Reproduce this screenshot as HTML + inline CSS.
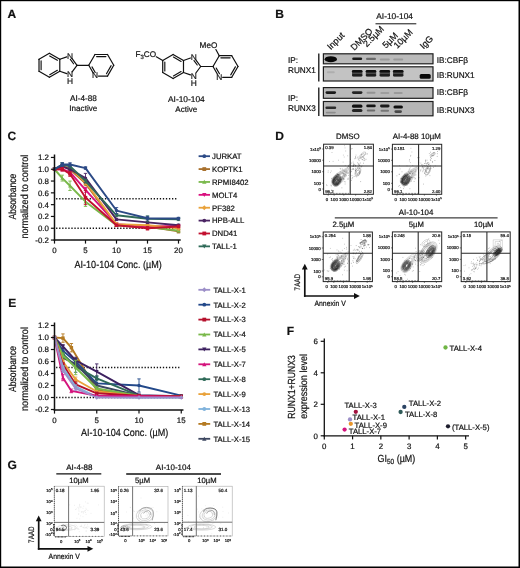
<!DOCTYPE html>
<html><head><meta charset="utf-8"><title>Figure</title>
<style>
html,body{margin:0;padding:0;background:#fff;}
svg{display:block;}
text{font-family:"Liberation Sans",Arial,Helvetica,sans-serif;fill:#111;text-rendering:geometricPrecision;stroke:#111;stroke-width:0.2px;}
</style></head><body>
<svg width="520" height="568" viewBox="0 0 520 568">
<rect x="0" y="0" width="520" height="568" fill="#fff"/>
<rect x="0" y="0" width="520" height="1.2" fill="#000"/>
<rect x="0" y="0" width="1.2" height="568" fill="#000"/>
<rect x="518.5" y="0" width="1.5" height="568" fill="#000"/>
<rect x="0" y="566.5" width="520" height="1.5" fill="#000"/>
<text x="7.60" y="17.60" font-size="12" font-weight="bold" fill="#000">A</text>
<text x="275.20" y="17.60" font-size="12" font-weight="bold" fill="#000">B</text>
<text x="7.40" y="140.20" font-size="12" font-weight="bold" fill="#000">C</text>
<text x="275.30" y="140.20" font-size="12" font-weight="bold" fill="#000">D</text>
<text x="8.20" y="306.90" font-size="12" font-weight="bold" fill="#000">E</text>
<text x="286.80" y="334.60" font-size="12" font-weight="bold" fill="#000">F</text>
<text x="7.40" y="468.80" font-size="12" font-weight="bold" fill="#000">G</text>
<line x1="49.40" y1="53.30" x2="59.79" y2="59.30" stroke="#111" stroke-width="1.2" stroke-linecap="round"/>
<line x1="59.79" y1="59.30" x2="59.79" y2="71.30" stroke="#111" stroke-width="1.2" stroke-linecap="round"/>
<line x1="59.79" y1="71.30" x2="49.40" y2="77.30" stroke="#111" stroke-width="1.2" stroke-linecap="round"/>
<line x1="49.40" y1="77.30" x2="39.01" y2="71.30" stroke="#111" stroke-width="1.2" stroke-linecap="round"/>
<line x1="39.01" y1="71.30" x2="39.01" y2="59.30" stroke="#111" stroke-width="1.2" stroke-linecap="round"/>
<line x1="39.01" y1="59.30" x2="49.40" y2="53.30" stroke="#111" stroke-width="1.2" stroke-linecap="round"/>
<line x1="49.74" y1="55.92" x2="57.36" y2="60.32" stroke="#111" stroke-width="1.15" stroke-linecap="round"/>
<line x1="57.36" y1="70.28" x2="49.74" y2="74.68" stroke="#111" stroke-width="1.15" stroke-linecap="round"/>
<line x1="41.11" y1="69.70" x2="41.11" y2="60.90" stroke="#111" stroke-width="1.15" stroke-linecap="round"/>
<line x1="59.79" y1="59.30" x2="66.79" y2="56.83" stroke="#111" stroke-width="1.2" stroke-linecap="round"/>
<line x1="72.12" y1="58.61" x2="77.00" y2="65.30" stroke="#111" stroke-width="1.2" stroke-linecap="round"/>
<line x1="77.00" y1="65.30" x2="72.15" y2="71.81" stroke="#111" stroke-width="1.2" stroke-linecap="round"/>
<line x1="66.77" y1="73.63" x2="59.79" y2="71.30" stroke="#111" stroke-width="1.2" stroke-linecap="round"/>
<line x1="70.31" y1="59.35" x2="73.54" y2="63.78" stroke="#111" stroke-width="1.15" stroke-linecap="round"/>
<line x1="77.00" y1="65.30" x2="88.75" y2="65.30" stroke="#111" stroke-width="1.2" stroke-linecap="round"/>
<line x1="88.75" y1="65.30" x2="95.00" y2="54.50" stroke="#111" stroke-width="1.2" stroke-linecap="round"/>
<line x1="95.00" y1="54.50" x2="107.50" y2="54.50" stroke="#111" stroke-width="1.2" stroke-linecap="round"/>
<line x1="107.50" y1="54.50" x2="113.75" y2="65.30" stroke="#111" stroke-width="1.2" stroke-linecap="round"/>
<line x1="113.75" y1="65.30" x2="107.50" y2="76.10" stroke="#111" stroke-width="1.2" stroke-linecap="round"/>
<line x1="107.50" y1="76.10" x2="98.40" y2="76.10" stroke="#111" stroke-width="1.2" stroke-linecap="round"/>
<line x1="93.20" y1="72.98" x2="88.75" y2="65.30" stroke="#111" stroke-width="1.2" stroke-linecap="round"/>
<line x1="96.60" y1="56.60" x2="105.90" y2="56.60" stroke="#111" stroke-width="1.15" stroke-linecap="round"/>
<line x1="111.13" y1="65.64" x2="106.48" y2="73.67" stroke="#111" stroke-width="1.15" stroke-linecap="round"/>
<line x1="95.23" y1="72.51" x2="91.99" y2="66.90" stroke="#111" stroke-width="1.15" stroke-linecap="round"/>
<text x="70.00" y="58.70" font-size="8.4" text-anchor="middle">N</text>
<text x="70.00" y="77.30" font-size="8.4" text-anchor="middle">N</text>
<text x="70.00" y="84.30" font-size="8.4" text-anchor="middle">H</text>
<text x="95.00" y="78.30" font-size="8.4" text-anchor="middle">N</text>
<text x="83.40" y="101.20" font-size="8.2" text-anchor="middle">AI-4-88</text>
<text x="83.30" y="110.90" font-size="8.1" text-anchor="middle">Inactive</text>
<line x1="173.10" y1="54.50" x2="183.49" y2="60.50" stroke="#111" stroke-width="1.2" stroke-linecap="round"/>
<line x1="183.49" y1="60.50" x2="183.49" y2="72.50" stroke="#111" stroke-width="1.2" stroke-linecap="round"/>
<line x1="183.49" y1="72.50" x2="173.10" y2="78.50" stroke="#111" stroke-width="1.2" stroke-linecap="round"/>
<line x1="173.10" y1="78.50" x2="162.71" y2="72.50" stroke="#111" stroke-width="1.2" stroke-linecap="round"/>
<line x1="162.71" y1="72.50" x2="162.71" y2="60.50" stroke="#111" stroke-width="1.2" stroke-linecap="round"/>
<line x1="162.71" y1="60.50" x2="173.10" y2="54.50" stroke="#111" stroke-width="1.2" stroke-linecap="round"/>
<line x1="173.44" y1="57.12" x2="181.06" y2="61.52" stroke="#111" stroke-width="1.15" stroke-linecap="round"/>
<line x1="181.06" y1="71.48" x2="173.44" y2="75.88" stroke="#111" stroke-width="1.15" stroke-linecap="round"/>
<line x1="164.81" y1="70.90" x2="164.81" y2="62.10" stroke="#111" stroke-width="1.15" stroke-linecap="round"/>
<line x1="183.49" y1="60.50" x2="190.49" y2="58.03" stroke="#111" stroke-width="1.2" stroke-linecap="round"/>
<line x1="195.82" y1="59.81" x2="200.70" y2="66.50" stroke="#111" stroke-width="1.2" stroke-linecap="round"/>
<line x1="200.70" y1="66.50" x2="195.85" y2="73.01" stroke="#111" stroke-width="1.2" stroke-linecap="round"/>
<line x1="190.47" y1="74.83" x2="183.49" y2="72.50" stroke="#111" stroke-width="1.2" stroke-linecap="round"/>
<line x1="194.01" y1="60.55" x2="197.24" y2="64.98" stroke="#111" stroke-width="1.15" stroke-linecap="round"/>
<line x1="200.70" y1="66.50" x2="213.00" y2="66.50" stroke="#111" stroke-width="1.2" stroke-linecap="round"/>
<line x1="213.00" y1="66.50" x2="219.25" y2="55.70" stroke="#111" stroke-width="1.2" stroke-linecap="round"/>
<line x1="219.25" y1="55.70" x2="231.75" y2="55.70" stroke="#111" stroke-width="1.2" stroke-linecap="round"/>
<line x1="231.75" y1="55.70" x2="238.00" y2="66.50" stroke="#111" stroke-width="1.2" stroke-linecap="round"/>
<line x1="238.00" y1="66.50" x2="231.75" y2="77.30" stroke="#111" stroke-width="1.2" stroke-linecap="round"/>
<line x1="231.75" y1="77.30" x2="222.65" y2="77.30" stroke="#111" stroke-width="1.2" stroke-linecap="round"/>
<line x1="217.45" y1="74.18" x2="213.00" y2="66.50" stroke="#111" stroke-width="1.2" stroke-linecap="round"/>
<line x1="220.85" y1="57.80" x2="230.15" y2="57.80" stroke="#111" stroke-width="1.15" stroke-linecap="round"/>
<line x1="235.38" y1="66.84" x2="230.73" y2="74.87" stroke="#111" stroke-width="1.15" stroke-linecap="round"/>
<line x1="219.48" y1="73.71" x2="216.24" y2="68.10" stroke="#111" stroke-width="1.15" stroke-linecap="round"/>
<text x="193.70" y="59.90" font-size="8.4" text-anchor="middle">N</text>
<text x="193.70" y="78.50" font-size="8.4" text-anchor="middle">N</text>
<text x="193.70" y="85.50" font-size="8.4" text-anchor="middle">H</text>
<text x="219.25" y="79.50" font-size="8.4" text-anchor="middle">N</text>
<line x1="162.71" y1="60.50" x2="156.29" y2="56.80" stroke="#111" stroke-width="1.2" stroke-linecap="round"/>
<text x="135.40" y="57.40" font-size="8.2">F<tspan dy="1.8" font-size="6">3</tspan><tspan dy="-1.8">CO</tspan></text>
<line x1="219.25" y1="55.70" x2="215.89" y2="49.53" stroke="#111" stroke-width="1.2" stroke-linecap="round"/>
<text x="199.60" y="48.20" font-size="8.2">MeO</text>
<text x="186.40" y="102.20" font-size="8.4" text-anchor="middle">AI-10-104</text>
<text x="186.30" y="111.50" font-size="8.1" text-anchor="middle">Active</text>
<defs><filter id="bl" x="-30%" y="-80%" width="160%" height="260%"><feGaussianBlur stdDeviation="0.7"/></filter><filter id="bl2" x="-30%" y="-80%" width="160%" height="260%"><feGaussianBlur stdDeviation="0.45"/></filter></defs>
<text x="394.60" y="18.90" font-size="8.35" text-anchor="middle">AI-10-104</text>
<line x1="375.50" y1="23.80" x2="416.30" y2="23.80" stroke="#111" stroke-width="1.0"/>
<text x="330.80" y="50.20" font-size="9.0" transform="rotate(-45 330.80 50.20)">Input</text>
<text x="354.20" y="51.00" font-size="9.0" transform="rotate(-45 354.20 51.00)">DMSO</text>
<text x="366.80" y="47.40" font-size="9.0" transform="rotate(-45 366.80 47.40)">2.5µM</text>
<text x="386.00" y="48.80" font-size="9.0" transform="rotate(-45 386.00 48.80)">5µM</text>
<text x="397.20" y="49.00" font-size="9.0" transform="rotate(-45 397.20 49.00)">10µM</text>
<text x="423.40" y="49.60" font-size="9.0" transform="rotate(-45 423.40 49.60)">IgG</text>
<text x="288.00" y="62.60" font-size="8.2">IP:</text>
<text x="288.00" y="72.70" font-size="8.2">RUNX1</text>
<text x="288.00" y="100.60" font-size="8.2">IP:</text>
<text x="288.00" y="111.40" font-size="8.2">RUNX3</text>
<line x1="318.80" y1="53.60" x2="318.80" y2="81.60" stroke="#111" stroke-width="1.3"/>
<line x1="318.80" y1="87.60" x2="318.80" y2="116.00" stroke="#111" stroke-width="1.3"/>
<text x="436.80" y="63.20" font-size="8.2">IB:CBFβ</text>
<text x="436.80" y="77.60" font-size="8.2">IB:RUNX1</text>
<text x="436.80" y="95.20" font-size="8.2">IB:CBFβ</text>
<text x="436.80" y="112.60" font-size="8.2">IB:RUNX3</text>
<rect x="323.4" y="53.8" width="109.6" height="10.0" fill="#bababa" stroke="#1e1e1e" stroke-width="1.2"/>
<rect x="323.4" y="66.8" width="109.6" height="14.2" fill="#c3c3c3" stroke="#1e1e1e" stroke-width="1.2"/>
<rect x="323.4" y="87.6" width="109.6" height="10.7" fill="#b9b9b9" stroke="#1e1e1e" stroke-width="1.2"/>
<rect x="323.4" y="101.5" width="109.6" height="14.3" fill="#b6b6b6" stroke="#1e1e1e" stroke-width="1.2"/>
<ellipse cx="330.8" cy="59.2" rx="6.2" ry="3.0" fill="#000" opacity="0.95" filter="url(#bl2)"/>
<rect x="352.20" y="57.50" width="10" height="2.6" rx="1.30" fill="#000" opacity="0.85" filter="url(#bl)"/>
<rect x="366.00" y="57.75" width="10" height="2.3" rx="1.15" fill="#000" opacity="0.42" filter="url(#bl)"/>
<rect x="379.80" y="58.40" width="10" height="2.0" rx="1.00" fill="#000" opacity="0.17" filter="url(#bl)"/>
<rect x="393.20" y="58.60" width="10" height="2.0" rx="1.00" fill="#000" opacity="0.17" filter="url(#bl)"/>
<rect x="326.80" y="71.20" width="8" height="2.0" rx="1.00" fill="#000" opacity="0.1" filter="url(#bl)"/>
<rect x="352.00" y="69.90" width="10.4" height="6.6" rx="1.50" fill="#000" opacity="0.62" filter="url(#bl)"/>
<rect x="351.90" y="69.90" width="10.6" height="2.6" rx="1.30" fill="#000" opacity="0.8" filter="url(#bl)"/>
<rect x="352.00" y="74.00" width="10.4" height="2.4" rx="1.20" fill="#000" opacity="0.6" filter="url(#bl)"/>
<rect x="365.80" y="69.90" width="10.4" height="6.6" rx="1.50" fill="#000" opacity="0.62" filter="url(#bl)"/>
<rect x="365.70" y="69.90" width="10.6" height="2.6" rx="1.30" fill="#000" opacity="0.8" filter="url(#bl)"/>
<rect x="365.80" y="74.00" width="10.4" height="2.4" rx="1.20" fill="#000" opacity="0.6" filter="url(#bl)"/>
<rect x="379.60" y="69.90" width="10.4" height="6.6" rx="1.50" fill="#000" opacity="0.62" filter="url(#bl)"/>
<rect x="379.50" y="69.90" width="10.6" height="2.6" rx="1.30" fill="#000" opacity="0.8" filter="url(#bl)"/>
<rect x="379.60" y="74.00" width="10.4" height="2.4" rx="1.20" fill="#000" opacity="0.6" filter="url(#bl)"/>
<rect x="393.00" y="69.90" width="10.4" height="6.6" rx="1.50" fill="#000" opacity="0.62" filter="url(#bl)"/>
<rect x="392.90" y="69.90" width="10.6" height="2.6" rx="1.30" fill="#000" opacity="0.8" filter="url(#bl)"/>
<rect x="393.00" y="74.00" width="10.4" height="2.4" rx="1.20" fill="#000" opacity="0.6" filter="url(#bl)"/>
<rect x="419.70" y="74.00" width="11.0" height="4.8" rx="1.50" fill="#000" opacity="0.95" filter="url(#bl)"/>
<rect x="325.55" y="91.20" width="10.5" height="2.8" rx="1.40" fill="#000" opacity="0.85" filter="url(#bl)"/>
<rect x="351.95" y="91.20" width="10.5" height="2.8" rx="1.40" fill="#000" opacity="0.8" filter="url(#bl)"/>
<rect x="366.50" y="91.80" width="9" height="2.0" rx="1.00" fill="#000" opacity="0.2" filter="url(#bl)"/>
<rect x="380.30" y="91.90" width="9" height="2.0" rx="1.00" fill="#000" opacity="0.14" filter="url(#bl)"/>
<rect x="393.70" y="92.00" width="9" height="2.0" rx="1.00" fill="#000" opacity="0.16" filter="url(#bl)"/>
<rect x="325.40" y="106.60" width="10.8" height="2.4" rx="1.20" fill="#000" opacity="0.75" filter="url(#bl)"/>
<rect x="325.80" y="111.80" width="10" height="1.6" rx="0.80" fill="#000" opacity="0.22" filter="url(#bl)"/>
<rect x="351.95" y="104.60" width="10.5" height="3.2" rx="1.50" fill="#000" opacity="0.9" filter="url(#bl)"/>
<rect x="351.95" y="109.10" width="10.5" height="3.0" rx="1.50" fill="#000" opacity="0.8" filter="url(#bl)"/>
<rect x="366.25" y="104.50" width="9.5" height="2.8" rx="1.40" fill="#000" opacity="0.88" filter="url(#bl)"/>
<rect x="366.75" y="109.60" width="8.5" height="2.0" rx="1.00" fill="#000" opacity="0.4" filter="url(#bl)"/>
<rect x="380.05" y="104.60" width="9.5" height="2.8" rx="1.40" fill="#000" opacity="0.85" filter="url(#bl)"/>
<rect x="380.55" y="109.80" width="8.5" height="2.0" rx="1.00" fill="#000" opacity="0.35" filter="url(#bl)"/>
<rect x="393.45" y="105.40" width="9.5" height="3.2" rx="1.50" fill="#000" opacity="0.9" filter="url(#bl)"/>
<rect x="394.45" y="110.30" width="7.5" height="2.6" rx="1.30" fill="#000" opacity="0.6" filter="url(#bl)"/>
<line x1="56.10" y1="198.75" x2="177.90" y2="198.75" stroke="#111" stroke-width="1.5" stroke-dasharray="1.3 1.75"/>
<line x1="56.10" y1="228.25" x2="177.90" y2="228.25" stroke="#111" stroke-width="1.5" stroke-dasharray="1.3 1.75"/>
<path d="M54.50 169.25 L62.25 166.30 L70.00 169.25 L85.50 183.41 L116.50 225.30 L147.50 226.48 L178.50 231.20" fill="none" stroke="#a8702c" stroke-width="1.9" stroke-linejoin="round"/>
<rect x="52.80" y="167.55" width="3.40" height="3.40" fill="#a8702c"/>
<path d="M62.25 164.53L62.25 168.07M60.55 164.53L63.95 164.53M60.55 168.07L63.95 168.07" stroke="#a8702c" stroke-width="0.9" fill="none"/>
<rect x="60.55" y="164.60" width="3.40" height="3.40" fill="#a8702c"/>
<path d="M70.00 166.30L70.00 172.20M68.30 166.30L71.70 166.30M68.30 172.20L71.70 172.20" stroke="#a8702c" stroke-width="0.9" fill="none"/>
<rect x="68.30" y="167.55" width="3.40" height="3.40" fill="#a8702c"/>
<path d="M85.50 181.05L85.50 185.77M83.80 181.05L87.20 181.05M83.80 185.77L87.20 185.77" stroke="#a8702c" stroke-width="0.9" fill="none"/>
<rect x="83.80" y="181.71" width="3.40" height="3.40" fill="#a8702c"/>
<path d="M116.50 224.12L116.50 226.48M114.80 224.12L118.20 224.12M114.80 226.48L118.20 226.48" stroke="#a8702c" stroke-width="0.9" fill="none"/>
<rect x="114.80" y="223.60" width="3.40" height="3.40" fill="#a8702c"/>
<path d="M147.50 225.30L147.50 227.66M145.80 225.30L149.20 225.30M145.80 227.66L149.20 227.66" stroke="#a8702c" stroke-width="0.9" fill="none"/>
<rect x="145.80" y="224.78" width="3.40" height="3.40" fill="#a8702c"/>
<path d="M178.50 229.43L178.50 232.97M176.80 229.43L180.20 229.43M176.80 232.97L180.20 232.97" stroke="#a8702c" stroke-width="0.9" fill="none"/>
<rect x="176.80" y="229.50" width="3.40" height="3.40" fill="#a8702c"/>
<path d="M54.50 169.25 L62.25 178.10 L70.00 185.77 L85.50 201.70 L116.50 225.30 L147.50 227.07 L178.50 230.61" fill="none" stroke="#79b84a" stroke-width="1.9" stroke-linejoin="round"/>
<path d="M52.55 170.95L56.45 170.95L54.50 167.38Z" fill="#79b84a"/>
<path d="M62.25 175.15L62.25 181.05M60.55 175.15L63.95 175.15M60.55 181.05L63.95 181.05" stroke="#79b84a" stroke-width="0.9" fill="none"/>
<path d="M60.30 179.80L64.20 179.80L62.25 176.23Z" fill="#79b84a"/>
<path d="M70.00 181.05L70.00 190.49M68.30 181.05L71.70 181.05M68.30 190.49L71.70 190.49" stroke="#79b84a" stroke-width="0.9" fill="none"/>
<path d="M68.05 187.47L71.95 187.47L70.00 183.90Z" fill="#79b84a"/>
<path d="M85.50 196.98L85.50 206.42M83.80 196.98L87.20 196.98M83.80 206.42L87.20 206.42" stroke="#79b84a" stroke-width="0.9" fill="none"/>
<path d="M83.55 203.40L87.45 203.40L85.50 199.83Z" fill="#79b84a"/>
<path d="M116.50 224.12L116.50 226.48M114.80 224.12L118.20 224.12M114.80 226.48L118.20 226.48" stroke="#79b84a" stroke-width="0.9" fill="none"/>
<path d="M114.55 227.00L118.45 227.00L116.50 223.43Z" fill="#79b84a"/>
<path d="M147.50 225.89L147.50 228.25M145.80 225.89L149.20 225.89M145.80 228.25L149.20 228.25" stroke="#79b84a" stroke-width="0.9" fill="none"/>
<path d="M145.54 228.77L149.46 228.77L147.50 225.20Z" fill="#79b84a"/>
<path d="M178.50 229.43L178.50 231.79M176.80 229.43L180.20 229.43M176.80 231.79L180.20 231.79" stroke="#79b84a" stroke-width="0.9" fill="none"/>
<path d="M176.54 232.31L180.46 232.31L178.50 228.74Z" fill="#79b84a"/>
<path d="M54.50 169.25 L62.25 169.25 L70.00 172.20 L85.50 189.90 L116.50 224.12 L147.50 226.48 L178.50 225.89" fill="none" stroke="#d9117f" stroke-width="1.9" stroke-linejoin="round"/>
<path d="M52.55 167.55L56.45 167.55L54.50 171.12Z" fill="#d9117f"/>
<path d="M62.25 167.48L62.25 171.02M60.55 167.48L63.95 167.48M60.55 171.02L63.95 171.02" stroke="#d9117f" stroke-width="0.9" fill="none"/>
<path d="M60.30 167.55L64.20 167.55L62.25 171.12Z" fill="#d9117f"/>
<path d="M70.00 169.84L70.00 174.56M68.30 169.84L71.70 169.84M68.30 174.56L71.70 174.56" stroke="#d9117f" stroke-width="0.9" fill="none"/>
<path d="M68.05 170.50L71.95 170.50L70.00 174.07Z" fill="#d9117f"/>
<path d="M85.50 187.54L85.50 192.26M83.80 187.54L87.20 187.54M83.80 192.26L87.20 192.26" stroke="#d9117f" stroke-width="0.9" fill="none"/>
<path d="M83.55 188.20L87.45 188.20L85.50 191.77Z" fill="#d9117f"/>
<path d="M116.50 222.94L116.50 225.30M114.80 222.94L118.20 222.94M114.80 225.30L118.20 225.30" stroke="#d9117f" stroke-width="0.9" fill="none"/>
<path d="M114.55 222.42L118.45 222.42L116.50 225.99Z" fill="#d9117f"/>
<path d="M147.50 225.30L147.50 227.66M145.80 225.30L149.20 225.30M145.80 227.66L149.20 227.66" stroke="#d9117f" stroke-width="0.9" fill="none"/>
<path d="M145.54 224.78L149.46 224.78L147.50 228.35Z" fill="#d9117f"/>
<path d="M178.50 224.71L178.50 227.07M176.80 224.71L180.20 224.71M176.80 227.07L180.20 227.07" stroke="#d9117f" stroke-width="0.9" fill="none"/>
<path d="M176.54 224.19L180.46 224.19L178.50 227.76Z" fill="#d9117f"/>
<path d="M54.50 169.25 L62.25 166.30 L70.00 168.07 L85.50 182.23 L116.50 224.12 L147.50 225.30 L178.50 228.25" fill="none" stroke="#e9a23b" stroke-width="1.9" stroke-linejoin="round"/>
<path d="M52.46 169.25L54.50 167.04L56.54 169.25L54.50 171.46Z" fill="#e9a23b"/>
<path d="M62.25 164.53L62.25 168.07M60.55 164.53L63.95 164.53M60.55 168.07L63.95 168.07" stroke="#e9a23b" stroke-width="0.9" fill="none"/>
<path d="M60.21 166.30L62.25 164.09L64.29 166.30L62.25 168.51Z" fill="#e9a23b"/>
<path d="M70.00 165.12L70.00 171.02M68.30 165.12L71.70 165.12M68.30 171.02L71.70 171.02" stroke="#e9a23b" stroke-width="0.9" fill="none"/>
<path d="M67.96 168.07L70.00 165.86L72.04 168.07L70.00 170.28Z" fill="#e9a23b"/>
<path d="M85.50 179.87L85.50 184.59M83.80 179.87L87.20 179.87M83.80 184.59L87.20 184.59" stroke="#e9a23b" stroke-width="0.9" fill="none"/>
<path d="M83.46 182.23L85.50 180.02L87.54 182.23L85.50 184.44Z" fill="#e9a23b"/>
<path d="M116.50 222.94L116.50 225.30M114.80 222.94L118.20 222.94M114.80 225.30L118.20 225.30" stroke="#e9a23b" stroke-width="0.9" fill="none"/>
<path d="M114.46 224.12L116.50 221.91L118.54 224.12L116.50 226.33Z" fill="#e9a23b"/>
<path d="M147.50 224.12L147.50 226.48M145.80 224.12L149.20 224.12M145.80 226.48L149.20 226.48" stroke="#e9a23b" stroke-width="0.9" fill="none"/>
<path d="M145.46 225.30L147.50 223.09L149.54 225.30L147.50 227.51Z" fill="#e9a23b"/>
<path d="M178.50 226.48L178.50 230.02M176.80 226.48L180.20 226.48M176.80 230.02L180.20 230.02" stroke="#e9a23b" stroke-width="0.9" fill="none"/>
<path d="M176.46 228.25L178.50 226.04L180.54 228.25L178.50 230.46Z" fill="#e9a23b"/>
<path d="M54.50 169.25 L62.25 166.30 L70.00 169.25 L85.50 178.10 L116.50 219.40 L147.50 222.35 L178.50 225.30" fill="none" stroke="#4a2463" stroke-width="1.9" stroke-linejoin="round"/>
<circle cx="54.50" cy="169.25" r="1.70" fill="#4a2463"/>
<path d="M62.25 165.12L62.25 167.48M60.55 165.12L63.95 165.12M60.55 167.48L63.95 167.48" stroke="#4a2463" stroke-width="0.9" fill="none"/>
<circle cx="62.25" cy="166.30" r="1.70" fill="#4a2463"/>
<path d="M70.00 167.48L70.00 171.02M68.30 167.48L71.70 167.48M68.30 171.02L71.70 171.02" stroke="#4a2463" stroke-width="0.9" fill="none"/>
<circle cx="70.00" cy="169.25" r="1.70" fill="#4a2463"/>
<path d="M85.50 173.38L85.50 182.82M83.80 173.38L87.20 173.38M83.80 182.82L87.20 182.82" stroke="#4a2463" stroke-width="0.9" fill="none"/>
<circle cx="85.50" cy="178.10" r="1.70" fill="#4a2463"/>
<path d="M116.50 218.22L116.50 220.58M114.80 218.22L118.20 218.22M114.80 220.58L118.20 220.58" stroke="#4a2463" stroke-width="0.9" fill="none"/>
<circle cx="116.50" cy="219.40" r="1.70" fill="#4a2463"/>
<path d="M147.50 221.17L147.50 223.53M145.80 221.17L149.20 221.17M145.80 223.53L149.20 223.53" stroke="#4a2463" stroke-width="0.9" fill="none"/>
<circle cx="147.50" cy="222.35" r="1.70" fill="#4a2463"/>
<path d="M178.50 224.12L178.50 226.48M176.80 224.12L180.20 224.12M176.80 226.48L180.20 226.48" stroke="#4a2463" stroke-width="0.9" fill="none"/>
<circle cx="178.50" cy="225.30" r="1.70" fill="#4a2463"/>
<path d="M54.50 169.25 L62.25 169.25 L70.00 173.97 L85.50 197.57 L116.50 225.30 L147.50 228.25 L178.50 226.48" fill="none" stroke="#c2102f" stroke-width="1.9" stroke-linejoin="round"/>
<rect x="52.80" y="167.55" width="3.40" height="3.40" fill="#c2102f"/>
<path d="M62.25 167.48L62.25 171.02M60.55 167.48L63.95 167.48M60.55 171.02L63.95 171.02" stroke="#c2102f" stroke-width="0.9" fill="none"/>
<rect x="60.55" y="167.55" width="3.40" height="3.40" fill="#c2102f"/>
<path d="M70.00 171.61L70.00 176.33M68.30 171.61L71.70 171.61M68.30 176.33L71.70 176.33" stroke="#c2102f" stroke-width="0.9" fill="none"/>
<rect x="68.30" y="172.27" width="3.40" height="3.40" fill="#c2102f"/>
<path d="M85.50 190.49L85.50 204.65M83.80 190.49L87.20 190.49M83.80 204.65L87.20 204.65" stroke="#c2102f" stroke-width="0.9" fill="none"/>
<rect x="83.80" y="195.87" width="3.40" height="3.40" fill="#c2102f"/>
<path d="M116.50 224.12L116.50 226.48M114.80 224.12L118.20 224.12M114.80 226.48L118.20 226.48" stroke="#c2102f" stroke-width="0.9" fill="none"/>
<rect x="114.80" y="223.60" width="3.40" height="3.40" fill="#c2102f"/>
<path d="M147.50 226.48L147.50 230.02M145.80 226.48L149.20 226.48M145.80 230.02L149.20 230.02" stroke="#c2102f" stroke-width="0.9" fill="none"/>
<rect x="145.80" y="226.55" width="3.40" height="3.40" fill="#c2102f"/>
<path d="M178.50 225.30L178.50 227.66M176.80 225.30L180.20 225.30M176.80 227.66L180.20 227.66" stroke="#c2102f" stroke-width="0.9" fill="none"/>
<rect x="176.80" y="224.78" width="3.40" height="3.40" fill="#c2102f"/>
<path d="M54.50 169.25 L62.25 164.53 L70.00 166.30 L85.50 181.05 L116.50 215.27 L147.50 218.81 L178.50 219.40" fill="none" stroke="#2f6a58" stroke-width="1.9" stroke-linejoin="round"/>
<path d="M52.55 167.55L56.45 167.55L54.50 171.12Z" fill="#2f6a58"/>
<path d="M62.25 162.76L62.25 166.30M60.55 162.76L63.95 162.76M60.55 166.30L63.95 166.30" stroke="#2f6a58" stroke-width="0.9" fill="none"/>
<path d="M60.30 162.83L64.20 162.83L62.25 166.40Z" fill="#2f6a58"/>
<path d="M70.00 164.53L70.00 168.07M68.30 164.53L71.70 164.53M68.30 168.07L71.70 168.07" stroke="#2f6a58" stroke-width="0.9" fill="none"/>
<path d="M68.05 164.60L71.95 164.60L70.00 168.17Z" fill="#2f6a58"/>
<path d="M85.50 179.28L85.50 182.82M83.80 179.28L87.20 179.28M83.80 182.82L87.20 182.82" stroke="#2f6a58" stroke-width="0.9" fill="none"/>
<path d="M83.55 179.35L87.45 179.35L85.50 182.92Z" fill="#2f6a58"/>
<path d="M116.50 214.09L116.50 216.45M114.80 214.09L118.20 214.09M114.80 216.45L118.20 216.45" stroke="#2f6a58" stroke-width="0.9" fill="none"/>
<path d="M114.55 213.57L118.45 213.57L116.50 217.14Z" fill="#2f6a58"/>
<path d="M147.50 215.86L147.50 221.76M145.80 215.86L149.20 215.86M145.80 221.76L149.20 221.76" stroke="#2f6a58" stroke-width="0.9" fill="none"/>
<path d="M145.54 217.11L149.46 217.11L147.50 220.68Z" fill="#2f6a58"/>
<path d="M178.50 218.22L178.50 220.58M176.80 218.22L180.20 218.22M176.80 220.58L180.20 220.58" stroke="#2f6a58" stroke-width="0.9" fill="none"/>
<path d="M176.54 217.70L180.46 217.70L178.50 221.27Z" fill="#2f6a58"/>
<path d="M54.50 169.25 L62.25 164.53 L70.00 164.53 L85.50 168.07 L116.50 210.55 L147.50 218.22 L178.50 218.51" fill="none" stroke="#2c4a86" stroke-width="1.9" stroke-linejoin="round"/>
<circle cx="54.50" cy="169.25" r="1.70" fill="#2c4a86"/>
<path d="M62.25 162.76L62.25 166.30M60.55 162.76L63.95 162.76M60.55 166.30L63.95 166.30" stroke="#2c4a86" stroke-width="0.9" fill="none"/>
<circle cx="62.25" cy="164.53" r="1.70" fill="#2c4a86"/>
<path d="M70.00 162.76L70.00 166.30M68.30 162.76L71.70 162.76M68.30 166.30L71.70 166.30" stroke="#2c4a86" stroke-width="0.9" fill="none"/>
<circle cx="70.00" cy="164.53" r="1.70" fill="#2c4a86"/>
<path d="M85.50 166.89L85.50 169.25M83.80 166.89L87.20 166.89M83.80 169.25L87.20 169.25" stroke="#2c4a86" stroke-width="0.9" fill="none"/>
<circle cx="85.50" cy="168.07" r="1.70" fill="#2c4a86"/>
<path d="M116.50 207.60L116.50 213.50M114.80 207.60L118.20 207.60M114.80 213.50L118.20 213.50" stroke="#2c4a86" stroke-width="0.9" fill="none"/>
<circle cx="116.50" cy="210.55" r="1.70" fill="#2c4a86"/>
<path d="M147.50 216.45L147.50 219.99M145.80 216.45L149.20 216.45M145.80 219.99L149.20 219.99" stroke="#2c4a86" stroke-width="0.9" fill="none"/>
<circle cx="147.50" cy="218.22" r="1.70" fill="#2c4a86"/>
<path d="M178.50 217.34L178.50 219.69M176.80 217.34L180.20 217.34M176.80 219.69L180.20 219.69" stroke="#2c4a86" stroke-width="0.9" fill="none"/>
<circle cx="178.50" cy="218.51" r="1.70" fill="#2c4a86"/>
<line x1="54.50" y1="154.50" x2="54.50" y2="240.75" stroke="#111" stroke-width="1.5"/>
<line x1="53.75" y1="240.00" x2="180.70" y2="240.00" stroke="#111" stroke-width="1.5"/>
<line x1="50.90" y1="157.45" x2="54.50" y2="157.45" stroke="#111" stroke-width="1.2"/>
<text x="48.90" y="160.30" font-size="7.9" text-anchor="end">1.2</text>
<line x1="50.90" y1="169.25" x2="54.50" y2="169.25" stroke="#111" stroke-width="1.2"/>
<text x="48.90" y="172.10" font-size="7.9" text-anchor="end">1.0</text>
<line x1="50.90" y1="181.05" x2="54.50" y2="181.05" stroke="#111" stroke-width="1.2"/>
<text x="48.90" y="183.90" font-size="7.9" text-anchor="end">0.8</text>
<line x1="50.90" y1="192.85" x2="54.50" y2="192.85" stroke="#111" stroke-width="1.2"/>
<text x="48.90" y="195.70" font-size="7.9" text-anchor="end">0.6</text>
<line x1="50.90" y1="204.65" x2="54.50" y2="204.65" stroke="#111" stroke-width="1.2"/>
<text x="48.90" y="207.50" font-size="7.9" text-anchor="end">0.4</text>
<line x1="50.90" y1="216.45" x2="54.50" y2="216.45" stroke="#111" stroke-width="1.2"/>
<text x="48.90" y="219.30" font-size="7.9" text-anchor="end">0.2</text>
<line x1="50.90" y1="228.25" x2="54.50" y2="228.25" stroke="#111" stroke-width="1.2"/>
<text x="48.90" y="231.10" font-size="7.9" text-anchor="end">0.0</text>
<line x1="50.90" y1="240.05" x2="54.50" y2="240.05" stroke="#111" stroke-width="1.2"/>
<text x="48.90" y="242.90" font-size="7.9" text-anchor="end">-0.2</text>
<line x1="54.50" y1="240.00" x2="54.50" y2="243.60" stroke="#111" stroke-width="1.2"/>
<text x="54.50" y="253.20" font-size="7.9" text-anchor="middle">0</text>
<line x1="85.50" y1="240.00" x2="85.50" y2="243.60" stroke="#111" stroke-width="1.2"/>
<text x="85.50" y="253.20" font-size="7.9" text-anchor="middle">5</text>
<line x1="116.50" y1="240.00" x2="116.50" y2="243.60" stroke="#111" stroke-width="1.2"/>
<text x="116.50" y="253.20" font-size="7.9" text-anchor="middle">10</text>
<line x1="147.50" y1="240.00" x2="147.50" y2="243.60" stroke="#111" stroke-width="1.2"/>
<text x="147.50" y="253.20" font-size="7.9" text-anchor="middle">15</text>
<line x1="178.50" y1="240.00" x2="178.50" y2="243.60" stroke="#111" stroke-width="1.2"/>
<text x="178.50" y="253.20" font-size="7.9" text-anchor="middle">20</text>
<text x="118.10" y="267.50" font-size="10.3" text-anchor="middle" textLength="87.20" lengthAdjust="spacingAndGlyphs">AI-10-104 Conc. (µM)</text>
<text x="15.90" y="196.60" font-size="10.3" text-anchor="middle" transform="rotate(-90 15.90 196.60)" textLength="46.00" lengthAdjust="spacingAndGlyphs">Absorbance</text>
<text x="28.40" y="196.60" font-size="10.3" text-anchor="middle" transform="rotate(-90 28.40 196.60)" textLength="83.80" lengthAdjust="spacingAndGlyphs">normalized to control</text>
<line x1="198.60" y1="156.20" x2="210.00" y2="156.20" stroke="#2c4a86" stroke-width="1.8"/>
<circle cx="204.30" cy="156.20" r="1.90" fill="#2c4a86"/>
<text x="212.00" y="159.00" font-size="7.75">JURKAT</text>
<line x1="198.60" y1="169.08" x2="210.00" y2="169.08" stroke="#a8702c" stroke-width="1.8"/>
<rect x="202.40" y="167.18" width="3.80" height="3.80" fill="#a8702c"/>
<text x="212.00" y="171.88" font-size="7.75">KOPTK1</text>
<line x1="198.60" y1="181.96" x2="210.00" y2="181.96" stroke="#79b84a" stroke-width="1.8"/>
<path d="M202.12 183.86L206.49 183.86L204.30 179.87Z" fill="#79b84a"/>
<text x="212.00" y="184.76" font-size="7.75">RPMI8402</text>
<line x1="198.60" y1="194.84" x2="210.00" y2="194.84" stroke="#d9117f" stroke-width="1.8"/>
<path d="M202.12 192.94L206.49 192.94L204.30 196.93Z" fill="#d9117f"/>
<text x="212.00" y="197.64" font-size="7.75">MOLT4</text>
<line x1="198.60" y1="207.72" x2="210.00" y2="207.72" stroke="#e9a23b" stroke-width="1.8"/>
<path d="M202.02 207.72L204.30 205.25L206.58 207.72L204.30 210.19Z" fill="#e9a23b"/>
<text x="212.00" y="210.52" font-size="7.75">PF382</text>
<line x1="198.60" y1="220.60" x2="210.00" y2="220.60" stroke="#4a2463" stroke-width="1.8"/>
<circle cx="204.30" cy="220.60" r="1.90" fill="#4a2463"/>
<text x="212.00" y="223.40" font-size="7.75">HPB-ALL</text>
<line x1="198.60" y1="233.48" x2="210.00" y2="233.48" stroke="#c2102f" stroke-width="1.8"/>
<rect x="202.40" y="231.58" width="3.80" height="3.80" fill="#c2102f"/>
<text x="212.00" y="236.28" font-size="7.75">DND41</text>
<line x1="198.60" y1="246.36" x2="210.00" y2="246.36" stroke="#2f6a58" stroke-width="1.8"/>
<path d="M202.12 244.46L206.49 244.46L204.30 248.45Z" fill="#2f6a58"/>
<text x="212.00" y="249.16" font-size="7.75">TALL-1</text>
<line x1="56.10" y1="367.50" x2="180.65" y2="367.50" stroke="#111" stroke-width="1.5" stroke-dasharray="1.3 1.75"/>
<line x1="56.10" y1="397.50" x2="180.65" y2="397.50" stroke="#111" stroke-width="1.5" stroke-dasharray="1.3 1.75"/>
<path d="M54.50 337.50 L62.95 338.10 L71.40 347.70 L96.75 390.30 L139.00 396.30 L181.25 396.30" fill="none" stroke="#b47a22" stroke-width="1.9" stroke-linejoin="round"/>
<rect x="52.80" y="335.80" width="3.40" height="3.40" fill="#b47a22"/>
<path d="M62.95 333.90L62.95 342.30M61.25 333.90L64.65 333.90M61.25 342.30L64.65 342.30" stroke="#b47a22" stroke-width="0.9" fill="none"/>
<rect x="61.25" y="336.40" width="3.40" height="3.40" fill="#b47a22"/>
<path d="M71.40 343.50L71.40 351.90M69.70 343.50L73.10 343.50M69.70 351.90L73.10 351.90" stroke="#b47a22" stroke-width="0.9" fill="none"/>
<rect x="69.70" y="346.00" width="3.40" height="3.40" fill="#b47a22"/>
<path d="M96.75 388.50L96.75 392.10M95.05 388.50L98.45 388.50M95.05 392.10L98.45 392.10" stroke="#b47a22" stroke-width="0.9" fill="none"/>
<rect x="95.05" y="388.60" width="3.40" height="3.40" fill="#b47a22"/>
<rect x="137.30" y="394.60" width="3.40" height="3.40" fill="#b47a22"/>
<rect x="179.55" y="394.60" width="3.40" height="3.40" fill="#b47a22"/>
<path d="M54.50 337.50 L62.95 350.70 L75.62 361.50 L96.75 383.40 L139.00 385.50 L181.25 395.70" fill="none" stroke="#23498a" stroke-width="1.9" stroke-linejoin="round"/>
<circle cx="54.50" cy="337.50" r="1.70" fill="#23498a"/>
<path d="M62.95 348.30L62.95 353.10M61.25 348.30L64.65 348.30M61.25 353.10L64.65 353.10" stroke="#23498a" stroke-width="0.9" fill="none"/>
<circle cx="62.95" cy="350.70" r="1.70" fill="#23498a"/>
<path d="M75.62 358.50L75.62 364.50M73.92 358.50L77.33 358.50M73.92 364.50L77.33 364.50" stroke="#23498a" stroke-width="0.9" fill="none"/>
<circle cx="75.62" cy="361.50" r="1.70" fill="#23498a"/>
<path d="M96.75 376.20L96.75 390.60M95.05 376.20L98.45 376.20M95.05 390.60L98.45 390.60" stroke="#23498a" stroke-width="0.9" fill="none"/>
<circle cx="96.75" cy="383.40" r="1.70" fill="#23498a"/>
<path d="M139.00 378.90L139.00 392.10M137.30 378.90L140.70 378.90M137.30 392.10L140.70 392.10" stroke="#23498a" stroke-width="0.9" fill="none"/>
<circle cx="139.00" cy="385.50" r="1.70" fill="#23498a"/>
<circle cx="181.25" cy="395.70" r="1.70" fill="#23498a"/>
<path d="M54.50 337.50 L62.95 346.50 L75.62 360.30 L96.75 371.70 L139.00 395.10 L181.25 396.30" fill="none" stroke="#3d2160" stroke-width="1.9" stroke-linejoin="round"/>
<path d="M52.55 335.80L56.45 335.80L54.50 339.37Z" fill="#3d2160"/>
<path d="M62.95 344.70L62.95 348.30M61.25 344.70L64.65 344.70M61.25 348.30L64.65 348.30" stroke="#3d2160" stroke-width="0.9" fill="none"/>
<path d="M61.00 344.80L64.91 344.80L62.95 348.37Z" fill="#3d2160"/>
<path d="M75.62 357.30L75.62 363.30M73.92 357.30L77.33 357.30M73.92 363.30L77.33 363.30" stroke="#3d2160" stroke-width="0.9" fill="none"/>
<path d="M73.67 358.60L77.58 358.60L75.62 362.17Z" fill="#3d2160"/>
<path d="M96.75 363.90L96.75 379.50M95.05 363.90L98.45 363.90M95.05 379.50L98.45 379.50" stroke="#3d2160" stroke-width="0.9" fill="none"/>
<path d="M94.80 370.00L98.70 370.00L96.75 373.57Z" fill="#3d2160"/>
<path d="M137.04 393.40L140.96 393.40L139.00 396.97Z" fill="#3d2160"/>
<path d="M179.29 394.60L183.21 394.60L181.25 398.17Z" fill="#3d2160"/>
<path d="M54.50 337.50 L62.95 354.30 L75.62 366.30 L96.75 378.30 L139.00 395.70 L181.25 396.30" fill="none" stroke="#2f6a58" stroke-width="1.9" stroke-linejoin="round"/>
<circle cx="54.50" cy="337.50" r="1.70" fill="#2f6a58"/>
<path d="M62.95 352.50L62.95 356.10M61.25 352.50L64.65 352.50M61.25 356.10L64.65 356.10" stroke="#2f6a58" stroke-width="0.9" fill="none"/>
<circle cx="62.95" cy="354.30" r="1.70" fill="#2f6a58"/>
<path d="M75.62 360.30L75.62 372.30M73.92 360.30L77.33 360.30M73.92 372.30L77.33 372.30" stroke="#2f6a58" stroke-width="0.9" fill="none"/>
<circle cx="75.62" cy="366.30" r="1.70" fill="#2f6a58"/>
<path d="M96.75 375.90L96.75 380.70M95.05 375.90L98.45 375.90M95.05 380.70L98.45 380.70" stroke="#2f6a58" stroke-width="0.9" fill="none"/>
<circle cx="96.75" cy="378.30" r="1.70" fill="#2f6a58"/>
<circle cx="139.00" cy="395.70" r="1.70" fill="#2f6a58"/>
<circle cx="181.25" cy="396.30" r="1.70" fill="#2f6a58"/>
<path d="M54.50 337.50 L62.95 357.90 L75.62 363.90 L96.75 385.50 L139.00 395.70 L181.25 396.30" fill="none" stroke="#3d4760" stroke-width="1.9" stroke-linejoin="round"/>
<path d="M52.55 339.20L56.45 339.20L54.50 335.63Z" fill="#3d4760"/>
<path d="M62.95 356.10L62.95 359.70M61.25 356.10L64.65 356.10M61.25 359.70L64.65 359.70" stroke="#3d4760" stroke-width="0.9" fill="none"/>
<path d="M61.00 359.60L64.91 359.60L62.95 356.03Z" fill="#3d4760"/>
<path d="M75.62 360.90L75.62 366.90M73.92 360.90L77.33 360.90M73.92 366.90L77.33 366.90" stroke="#3d4760" stroke-width="0.9" fill="none"/>
<path d="M73.67 365.60L77.58 365.60L75.62 362.03Z" fill="#3d4760"/>
<path d="M96.75 383.70L96.75 387.30M95.05 383.70L98.45 383.70M95.05 387.30L98.45 387.30" stroke="#3d4760" stroke-width="0.9" fill="none"/>
<path d="M94.80 387.20L98.70 387.20L96.75 383.63Z" fill="#3d4760"/>
<path d="M137.04 397.40L140.96 397.40L139.00 393.83Z" fill="#3d4760"/>
<path d="M179.29 398.00L183.21 398.00L181.25 394.43Z" fill="#3d4760"/>
<path d="M54.50 337.50 L62.95 355.50 L75.62 367.50 L96.75 388.50 L139.00 395.70 L181.25 396.30" fill="none" stroke="#79b84a" stroke-width="1.9" stroke-linejoin="round"/>
<path d="M52.55 339.20L56.45 339.20L54.50 335.63Z" fill="#79b84a"/>
<path d="M62.95 353.10L62.95 357.90M61.25 353.10L64.65 353.10M61.25 357.90L64.65 357.90" stroke="#79b84a" stroke-width="0.9" fill="none"/>
<path d="M61.00 357.20L64.91 357.20L62.95 353.63Z" fill="#79b84a"/>
<path d="M75.62 360.30L75.62 374.70M73.92 360.30L77.33 360.30M73.92 374.70L77.33 374.70" stroke="#79b84a" stroke-width="0.9" fill="none"/>
<path d="M73.67 369.20L77.58 369.20L75.62 365.63Z" fill="#79b84a"/>
<path d="M96.75 386.70L96.75 390.30M95.05 386.70L98.45 386.70M95.05 390.30L98.45 390.30" stroke="#79b84a" stroke-width="0.9" fill="none"/>
<path d="M94.80 390.20L98.70 390.20L96.75 386.63Z" fill="#79b84a"/>
<path d="M137.04 397.40L140.96 397.40L139.00 393.83Z" fill="#79b84a"/>
<path d="M179.29 398.00L183.21 398.00L181.25 394.43Z" fill="#79b84a"/>
<path d="M54.50 337.50 L62.95 361.50 L75.62 379.50 L96.75 391.50 L139.00 396.30 L181.25 396.90" fill="none" stroke="#e9a23b" stroke-width="1.9" stroke-linejoin="round"/>
<circle cx="54.50" cy="337.50" r="1.70" fill="#e9a23b"/>
<path d="M62.95 359.70L62.95 363.30M61.25 359.70L64.65 359.70M61.25 363.30L64.65 363.30" stroke="#e9a23b" stroke-width="0.9" fill="none"/>
<circle cx="62.95" cy="361.50" r="1.70" fill="#e9a23b"/>
<path d="M75.62 377.10L75.62 381.90M73.92 377.10L77.33 377.10M73.92 381.90L77.33 381.90" stroke="#e9a23b" stroke-width="0.9" fill="none"/>
<circle cx="75.62" cy="379.50" r="1.70" fill="#e9a23b"/>
<circle cx="96.75" cy="391.50" r="1.70" fill="#e9a23b"/>
<circle cx="139.00" cy="396.30" r="1.70" fill="#e9a23b"/>
<circle cx="181.25" cy="396.90" r="1.70" fill="#e9a23b"/>
<path d="M54.50 337.50 L62.95 364.50 L75.62 384.30 L96.75 393.30 L139.00 395.70 L181.25 396.30" fill="none" stroke="#b5102c" stroke-width="1.9" stroke-linejoin="round"/>
<rect x="52.80" y="335.80" width="3.40" height="3.40" fill="#b5102c"/>
<path d="M62.95 362.70L62.95 366.30M61.25 362.70L64.65 362.70M61.25 366.30L64.65 366.30" stroke="#b5102c" stroke-width="0.9" fill="none"/>
<rect x="61.25" y="362.80" width="3.40" height="3.40" fill="#b5102c"/>
<path d="M75.62 381.90L75.62 386.70M73.92 381.90L77.33 381.90M73.92 386.70L77.33 386.70" stroke="#b5102c" stroke-width="0.9" fill="none"/>
<rect x="73.92" y="382.60" width="3.40" height="3.40" fill="#b5102c"/>
<rect x="95.05" y="391.60" width="3.40" height="3.40" fill="#b5102c"/>
<rect x="137.30" y="394.00" width="3.40" height="3.40" fill="#b5102c"/>
<rect x="179.55" y="394.60" width="3.40" height="3.40" fill="#b5102c"/>
<path d="M54.50 337.50 L62.95 367.50 L75.62 386.70 L96.75 396.90 L139.00 397.50 L181.25 397.50" fill="none" stroke="#80b3dc" stroke-width="1.9" stroke-linejoin="round"/>
<circle cx="54.50" cy="337.50" r="1.70" fill="#80b3dc"/>
<path d="M62.95 365.70L62.95 369.30M61.25 365.70L64.65 365.70M61.25 369.30L64.65 369.30" stroke="#80b3dc" stroke-width="0.9" fill="none"/>
<circle cx="62.95" cy="367.50" r="1.70" fill="#80b3dc"/>
<path d="M75.62 384.90L75.62 388.50M73.92 384.90L77.33 384.90M73.92 388.50L77.33 388.50" stroke="#80b3dc" stroke-width="0.9" fill="none"/>
<circle cx="75.62" cy="386.70" r="1.70" fill="#80b3dc"/>
<circle cx="96.75" cy="396.90" r="1.70" fill="#80b3dc"/>
<circle cx="139.00" cy="397.50" r="1.70" fill="#80b3dc"/>
<circle cx="181.25" cy="397.50" r="1.70" fill="#80b3dc"/>
<path d="M54.50 337.50 L62.95 377.70 L71.40 390.90 L96.75 395.70 L139.00 396.30 L181.25 396.90" fill="none" stroke="#d4147c" stroke-width="1.9" stroke-linejoin="round"/>
<path d="M52.55 339.20L56.45 339.20L54.50 335.63Z" fill="#d4147c"/>
<path d="M62.95 374.70L62.95 380.70M61.25 374.70L64.65 374.70M61.25 380.70L64.65 380.70" stroke="#d4147c" stroke-width="0.9" fill="none"/>
<path d="M61.00 379.40L64.91 379.40L62.95 375.83Z" fill="#d4147c"/>
<path d="M71.40 389.10L71.40 392.70M69.70 389.10L73.10 389.10M69.70 392.70L73.10 392.70" stroke="#d4147c" stroke-width="0.9" fill="none"/>
<path d="M69.45 392.60L73.36 392.60L71.40 389.03Z" fill="#d4147c"/>
<path d="M94.80 397.40L98.70 397.40L96.75 393.83Z" fill="#d4147c"/>
<path d="M137.04 398.00L140.96 398.00L139.00 394.43Z" fill="#d4147c"/>
<path d="M179.29 398.60L183.21 398.60L181.25 395.03Z" fill="#d4147c"/>
<path d="M54.50 337.50 L62.95 370.50 L75.62 388.50 L96.75 397.50 L139.00 397.50 L181.25 397.50" fill="none" stroke="#9c8fc8" stroke-width="1.9" stroke-linejoin="round"/>
<path d="M52.46 337.50L54.50 335.29L56.54 337.50L54.50 339.71Z" fill="#9c8fc8"/>
<path d="M62.95 368.70L62.95 372.30M61.25 368.70L64.65 368.70M61.25 372.30L64.65 372.30" stroke="#9c8fc8" stroke-width="0.9" fill="none"/>
<path d="M60.91 370.50L62.95 368.29L64.99 370.50L62.95 372.71Z" fill="#9c8fc8"/>
<path d="M75.62 386.70L75.62 390.30M73.92 386.70L77.33 386.70M73.92 390.30L77.33 390.30" stroke="#9c8fc8" stroke-width="0.9" fill="none"/>
<path d="M73.58 388.50L75.62 386.29L77.67 388.50L75.62 390.71Z" fill="#9c8fc8"/>
<path d="M94.71 397.50L96.75 395.29L98.79 397.50L96.75 399.71Z" fill="#9c8fc8"/>
<path d="M136.96 397.50L139.00 395.29L141.04 397.50L139.00 399.71Z" fill="#9c8fc8"/>
<path d="M179.21 397.50L181.25 395.29L183.29 397.50L181.25 399.71Z" fill="#9c8fc8"/>
<line x1="54.50" y1="322.50" x2="54.50" y2="410.75" stroke="#111" stroke-width="1.5"/>
<line x1="53.75" y1="410.00" x2="183.45" y2="410.00" stroke="#111" stroke-width="1.5"/>
<line x1="50.90" y1="325.50" x2="54.50" y2="325.50" stroke="#111" stroke-width="1.2"/>
<text x="48.90" y="328.35" font-size="7.9" text-anchor="end">1.2</text>
<line x1="50.90" y1="337.50" x2="54.50" y2="337.50" stroke="#111" stroke-width="1.2"/>
<text x="48.90" y="340.35" font-size="7.9" text-anchor="end">1.0</text>
<line x1="50.90" y1="349.50" x2="54.50" y2="349.50" stroke="#111" stroke-width="1.2"/>
<text x="48.90" y="352.35" font-size="7.9" text-anchor="end">0.8</text>
<line x1="50.90" y1="361.50" x2="54.50" y2="361.50" stroke="#111" stroke-width="1.2"/>
<text x="48.90" y="364.35" font-size="7.9" text-anchor="end">0.6</text>
<line x1="50.90" y1="373.50" x2="54.50" y2="373.50" stroke="#111" stroke-width="1.2"/>
<text x="48.90" y="376.35" font-size="7.9" text-anchor="end">0.4</text>
<line x1="50.90" y1="385.50" x2="54.50" y2="385.50" stroke="#111" stroke-width="1.2"/>
<text x="48.90" y="388.35" font-size="7.9" text-anchor="end">0.2</text>
<line x1="50.90" y1="397.50" x2="54.50" y2="397.50" stroke="#111" stroke-width="1.2"/>
<text x="48.90" y="400.35" font-size="7.9" text-anchor="end">0.0</text>
<line x1="50.90" y1="409.50" x2="54.50" y2="409.50" stroke="#111" stroke-width="1.2"/>
<text x="48.90" y="412.35" font-size="7.9" text-anchor="end">-0.2</text>
<line x1="54.50" y1="410.00" x2="54.50" y2="413.60" stroke="#111" stroke-width="1.2"/>
<text x="54.50" y="422.60" font-size="7.9" text-anchor="middle">0</text>
<line x1="96.75" y1="410.00" x2="96.75" y2="413.60" stroke="#111" stroke-width="1.2"/>
<text x="96.75" y="422.60" font-size="7.9" text-anchor="middle">5</text>
<line x1="139.00" y1="410.00" x2="139.00" y2="413.60" stroke="#111" stroke-width="1.2"/>
<text x="139.00" y="422.60" font-size="7.9" text-anchor="middle">10</text>
<line x1="181.25" y1="410.00" x2="181.25" y2="413.60" stroke="#111" stroke-width="1.2"/>
<text x="181.25" y="422.60" font-size="7.9" text-anchor="middle">15</text>
<text x="124.60" y="436.40" font-size="10.3" text-anchor="middle" textLength="87.20" lengthAdjust="spacingAndGlyphs">AI-10-104 Conc. (µM)</text>
<text x="15.90" y="369.00" font-size="10.3" text-anchor="middle" transform="rotate(-90 15.90 369.00)" textLength="46.00" lengthAdjust="spacingAndGlyphs">Absorbance</text>
<text x="28.40" y="369.00" font-size="10.3" text-anchor="middle" transform="rotate(-90 28.40 369.00)" textLength="83.80" lengthAdjust="spacingAndGlyphs">normalized to control</text>
<line x1="198.40" y1="289.80" x2="210.20" y2="289.80" stroke="#9c8fc8" stroke-width="1.8"/>
<path d="M202.02 289.80L204.30 287.33L206.58 289.80L204.30 292.27Z" fill="#9c8fc8"/>
<text x="213.40" y="292.60" font-size="7.7">TALL-X-1</text>
<line x1="198.40" y1="304.70" x2="210.20" y2="304.70" stroke="#23498a" stroke-width="1.8"/>
<circle cx="204.30" cy="304.70" r="1.90" fill="#23498a"/>
<text x="213.40" y="307.50" font-size="7.7">TALL-X-2</text>
<line x1="198.40" y1="319.60" x2="210.20" y2="319.60" stroke="#b5102c" stroke-width="1.8"/>
<rect x="202.40" y="317.70" width="3.80" height="3.80" fill="#b5102c"/>
<text x="213.40" y="322.40" font-size="7.7">TALL-X-3</text>
<line x1="198.40" y1="334.50" x2="210.20" y2="334.50" stroke="#79b84a" stroke-width="1.8"/>
<path d="M202.12 336.40L206.49 336.40L204.30 332.41Z" fill="#79b84a"/>
<text x="213.40" y="337.30" font-size="7.7">TALL-X-4</text>
<line x1="198.40" y1="349.40" x2="210.20" y2="349.40" stroke="#3d2160" stroke-width="1.8"/>
<path d="M202.12 347.50L206.49 347.50L204.30 351.49Z" fill="#3d2160"/>
<text x="213.40" y="352.20" font-size="7.7">TALL-X-5</text>
<line x1="198.40" y1="364.30" x2="210.20" y2="364.30" stroke="#d4147c" stroke-width="1.8"/>
<path d="M202.12 366.20L206.49 366.20L204.30 362.21Z" fill="#d4147c"/>
<text x="213.40" y="367.10" font-size="7.7">TALL-X-7</text>
<line x1="198.40" y1="379.20" x2="210.20" y2="379.20" stroke="#2f6a58" stroke-width="1.8"/>
<circle cx="204.30" cy="379.20" r="1.90" fill="#2f6a58"/>
<text x="213.40" y="382.00" font-size="7.7">TALL-X-8</text>
<line x1="198.40" y1="394.10" x2="210.20" y2="394.10" stroke="#e9a23b" stroke-width="1.8"/>
<circle cx="204.30" cy="394.10" r="1.90" fill="#e9a23b"/>
<text x="213.40" y="396.90" font-size="7.7">TALL-X-9</text>
<line x1="198.40" y1="409.00" x2="210.20" y2="409.00" stroke="#80b3dc" stroke-width="1.8"/>
<circle cx="204.30" cy="409.00" r="1.90" fill="#80b3dc"/>
<text x="213.40" y="411.80" font-size="7.7">TALL-X-13</text>
<line x1="198.40" y1="423.90" x2="210.20" y2="423.90" stroke="#b47a22" stroke-width="1.8"/>
<rect x="202.40" y="422.00" width="3.80" height="3.80" fill="#b47a22"/>
<text x="213.40" y="426.70" font-size="7.7">TALL-X-14</text>
<line x1="198.40" y1="438.80" x2="210.20" y2="438.80" stroke="#3d4760" stroke-width="1.8"/>
<path d="M202.12 440.70L206.49 440.70L204.30 436.71Z" fill="#3d4760"/>
<text x="213.40" y="441.60" font-size="7.7">TALL-X-15</text>
<path d="M349.8 166.4L349.8 166.8L349.4 167.7L348.7 169.2L347.9 171.1L346.9 173.3L345.7 175.9L344.4 178.4L342.9 180.9L341.3 183.0L339.5 184.6L337.7 185.6L335.9 185.9L334.2 185.6L332.8 184.7L331.8 183.4L331.4 181.7L331.6 179.9L332.4 178.0L333.9 176.1L335.9 174.3L338.2 172.7L340.7 171.2L343.1 169.9L345.3 168.7L347.2 167.7L348.5 166.9L349.4 166.5Z" fill="none" stroke="#000" stroke-opacity="0.38" stroke-width="0.4" stroke-linejoin="round"/>
<path d="M348.2 168.1L348.2 168.5L347.9 169.3L347.3 170.5L346.5 172.2L345.6 174.2L344.6 176.4L343.4 178.7L342.1 180.8L340.7 182.6L339.1 184.1L337.5 184.9L335.9 185.2L334.4 185.0L333.2 184.2L332.4 183.1L332.0 181.6L332.2 180.0L333.0 178.3L334.3 176.7L336.0 175.1L338.1 173.7L340.2 172.4L342.4 171.2L344.3 170.1L345.9 169.2L347.1 168.6L347.9 168.2Z" fill="none" stroke="#000" stroke-opacity="0.42" stroke-width="0.4" stroke-linejoin="round"/>
<path d="M346.7 169.7L346.7 170.0L346.4 170.7L345.9 171.8L345.2 173.3L344.5 175.0L343.6 176.9L342.5 178.9L341.4 180.8L340.2 182.4L338.8 183.6L337.4 184.4L336.0 184.7L334.7 184.4L333.7 183.8L332.9 182.7L332.6 181.5L332.8 180.1L333.4 178.6L334.6 177.2L336.1 175.8L337.9 174.6L339.8 173.4L341.6 172.4L343.3 171.5L344.7 170.7L345.8 170.1L346.4 169.8Z" fill="none" stroke="#000" stroke-opacity="0.48" stroke-width="0.4" stroke-linejoin="round"/>
<path d="M345.3 171.3L345.2 171.6L345.0 172.2L344.6 173.1L344.0 174.4L343.3 175.9L342.6 177.5L341.7 179.2L340.8 180.8L339.7 182.2L338.5 183.2L337.3 183.9L336.1 184.1L335.0 183.9L334.1 183.3L333.4 182.4L333.1 181.3L333.3 180.1L333.8 178.9L334.8 177.6L336.1 176.5L337.6 175.4L339.3 174.4L340.9 173.5L342.3 172.8L343.5 172.1L344.4 171.6L345.0 171.3Z" fill="none" stroke="#000" stroke-opacity="0.52" stroke-width="0.4" stroke-linejoin="round"/>
<path d="M343.8 172.9L343.8 173.1L343.6 173.6L343.2 174.4L342.8 175.5L342.2 176.7L341.6 178.1L340.9 179.5L340.2 180.9L339.3 182.0L338.3 182.9L337.3 183.4L336.3 183.6L335.3 183.4L334.5 182.8L333.9 182.1L333.7 181.1L333.7 180.1L334.2 179.0L335.0 178.0L336.1 177.1L337.4 176.2L338.7 175.4L340.1 174.7L341.3 174.1L342.3 173.5L343.1 173.2L343.6 172.9Z" fill="none" stroke="#000" stroke-opacity="0.55" stroke-width="0.4" stroke-linejoin="round"/>
<ellipse cx="336.79" cy="180.42" rx="6.20" ry="4.20" transform="rotate(-68 336.80 180.40)" fill="none" stroke="#000" stroke-opacity="0.62" stroke-width="0.45"/>
<ellipse cx="336.93" cy="180.39" rx="5.49" ry="3.72" transform="rotate(-68 336.80 180.40)" fill="none" stroke="#000" stroke-opacity="0.62" stroke-width="0.45"/>
<ellipse cx="336.80" cy="180.43" rx="4.78" ry="3.24" transform="rotate(-68 336.80 180.40)" fill="none" stroke="#000" stroke-opacity="0.62" stroke-width="0.45"/>
<ellipse cx="336.71" cy="180.40" rx="4.07" ry="2.76" transform="rotate(-68 336.80 180.40)" fill="none" stroke="#000" stroke-opacity="0.62" stroke-width="0.45"/>
<ellipse cx="336.84" cy="180.49" rx="3.37" ry="2.28" transform="rotate(-68 336.80 180.40)" fill="none" stroke="#000" stroke-opacity="0.62" stroke-width="0.45"/>
<ellipse cx="336.68" cy="180.34" rx="2.66" ry="1.80" transform="rotate(-68 336.80 180.40)" fill="none" stroke="#000" stroke-opacity="0.62" stroke-width="0.45"/>
<ellipse cx="336.68" cy="180.49" rx="1.95" ry="1.32" transform="rotate(-68 336.80 180.40)" fill="none" stroke="#000" stroke-opacity="0.62" stroke-width="0.45"/>
<ellipse cx="336.86" cy="180.26" rx="1.24" ry="0.84" transform="rotate(-68 336.80 180.40)" fill="none" stroke="#000" stroke-opacity="0.62" stroke-width="0.45"/>
<ellipse cx="336.60" cy="180.60" rx="5.20" ry="3.40" transform="rotate(-68 336.60 180.60)" fill="#000" fill-opacity="0.38"/>
<path d="M353.2 162.1h.01M331.5 178.4h.01M340.6 177.5h.01M337.5 179.4h.01M343.3 178.3h.01M346.5 172.1h.01M331.7 190.0h.01M331.0 185.1h.01M331.3 185.9h.01M335.9 182.7h.01M358.1 158.8h.01M340.2 168.6h.01M340.1 181.3h.01M340.3 179.3h.01M337.0 173.8h.01M340.2 171.8h.01M348.6 165.4h.01M343.5 173.7h.01M343.1 170.3h.01M344.9 171.6h.01M348.7 172.4h.01M337.9 174.3h.01M345.4 174.7h.01M347.7 167.1h.01M344.4 176.1h.01M341.9 176.7h.01M338.7 174.7h.01M332.6 182.1h.01M347.8 179.1h.01M348.5 175.4h.01M346.2 175.4h.01M343.1 179.0h.01M348.6 166.5h.01M341.9 187.8h.01M344.1 179.3h.01M340.9 169.0h.01M359.0 169.5h.01M343.0 179.0h.01M337.5 174.1h.01M340.2 179.4h.01M348.2 173.5h.01M344.2 181.6h.01M337.8 184.4h.01M345.0 170.4h.01M326.6 184.8h.01M342.6 177.9h.01M345.2 165.6h.01M341.7 179.7h.01M331.2 171.0h.01M351.5 180.4h.01M342.4 169.0h.01M338.0 180.6h.01M355.6 165.5h.01M345.2 181.9h.01M345.1 184.0h.01M334.2 180.0h.01M348.2 178.1h.01M344.3 174.9h.01M327.0 185.6h.01M334.4 179.4h.01" stroke="#000" stroke-opacity="0.45" stroke-width="0.64" stroke-linecap="round" fill="none"/>
<ellipse cx="358.21" cy="172.05" rx="4.20" ry="2.60" transform="rotate(-70 358.00 172.20)" fill="none" stroke="#000" stroke-opacity="0.55" stroke-width="0.45"/>
<ellipse cx="357.76" cy="172.08" rx="2.52" ry="1.56" transform="rotate(-70 358.00 172.20)" fill="none" stroke="#000" stroke-opacity="0.55" stroke-width="0.45"/>
<ellipse cx="362.57" cy="155.18" rx="4.40" ry="1.80" transform="rotate(-45 362.60 155.40)" fill="none" stroke="#000" stroke-opacity="0.45" stroke-width="0.4"/>
<ellipse cx="362.44" cy="155.33" rx="2.42" ry="0.99" transform="rotate(-45 362.60 155.40)" fill="none" stroke="#000" stroke-opacity="0.45" stroke-width="0.4"/>
<path d="M355.5 168.3h.01M356.7 176.8h.01M363.4 157.3h.01M352.8 166.5h.01M359.2 165.4h.01M367.4 153.9h.01M348.5 166.0h.01M364.2 158.3h.01M352.0 175.6h.01M360.7 181.6h.01M364.0 160.6h.01M351.7 163.1h.01M353.4 163.9h.01M354.8 158.7h.01M357.6 173.4h.01M361.5 154.4h.01M354.1 176.4h.01M358.8 159.3h.01M353.4 168.7h.01M351.4 171.6h.01M364.8 160.1h.01M366.0 154.0h.01M354.9 165.0h.01M354.1 164.3h.01M352.7 177.5h.01M366.0 159.3h.01M364.0 158.8h.01M355.3 170.3h.01M353.6 166.1h.01M347.3 173.0h.01M358.4 166.3h.01M359.8 171.3h.01M360.2 166.0h.01M360.7 157.5h.01M352.1 178.7h.01M358.7 172.4h.01M362.0 165.9h.01M355.6 157.8h.01M359.1 160.6h.01M353.8 169.5h.01M363.4 163.2h.01M357.7 157.2h.01M349.4 165.0h.01M359.2 167.7h.01M355.6 170.8h.01M361.6 166.5h.01M352.5 169.2h.01M359.5 173.6h.01M362.1 159.5h.01M359.2 164.9h.01M358.3 164.5h.01M353.4 165.6h.01M359.7 172.7h.01M360.3 163.0h.01M357.3 167.3h.01M357.7 162.8h.01M359.4 165.3h.01M352.9 168.8h.01M351.2 169.8h.01M355.4 156.6h.01M355.3 166.4h.01M355.8 169.7h.01M362.7 159.7h.01M355.8 165.7h.01M359.9 168.4h.01M353.4 166.2h.01M350.0 171.2h.01M355.3 176.0h.01M358.8 163.5h.01M362.1 156.4h.01" stroke="#000" stroke-opacity="0.5" stroke-width="0.64" stroke-linecap="round" fill="none"/>
<path d="M355.9 158.1h.01M342.3 173.0h.01M351.7 148.9h.01M338.5 160.2h.01M332.0 152.5h.01M329.5 161.5h.01M361.0 167.7h.01M328.1 172.3h.01M348.2 179.2h.01M345.7 151.0h.01M356.0 155.1h.01M328.2 170.8h.01M343.1 162.1h.01M344.2 157.0h.01M343.3 155.1h.01M346.0 176.2h.01M350.5 159.4h.01M330.5 172.6h.01M344.6 145.7h.01M352.1 148.5h.01M347.7 155.8h.01M353.7 165.0h.01M350.4 172.3h.01M333.1 161.4h.01M345.0 147.9h.01" stroke="#000" stroke-opacity="0.4" stroke-width="0.64" stroke-linecap="round" fill="none"/>
<rect x="323.60" y="144.20" width="49.80" height="50.10" fill="none" stroke="#262626" stroke-width="1.0"/>
<line x1="350.20" y1="144.20" x2="350.20" y2="194.30" stroke="#262626" stroke-width="1.05"/>
<line x1="323.60" y1="166.00" x2="373.40" y2="166.00" stroke="#262626" stroke-width="1.05"/>
<text x="321.00" y="150.50" font-size="4.3" text-anchor="end" fill="#222">1x10<tspan dy="-1.6" font-size="2.9">5</tspan></text>
<line x1="322.20" y1="149.00" x2="323.60" y2="149.00" stroke="#222" stroke-width="0.6"/>
<text x="321.00" y="161.70" font-size="4.3" text-anchor="end" fill="#222">10000</text>
<line x1="322.20" y1="160.20" x2="323.60" y2="160.20" stroke="#222" stroke-width="0.6"/>
<text x="321.00" y="173.20" font-size="4.3" text-anchor="end" fill="#222">1000</text>
<line x1="322.20" y1="171.70" x2="323.60" y2="171.70" stroke="#222" stroke-width="0.6"/>
<text x="321.00" y="184.70" font-size="4.3" text-anchor="end" fill="#222">100</text>
<line x1="322.20" y1="183.20" x2="323.60" y2="183.20" stroke="#222" stroke-width="0.6"/>
<text x="321.00" y="190.50" font-size="4.3" text-anchor="end" fill="#222">0</text>
<line x1="322.20" y1="189.00" x2="323.60" y2="189.00" stroke="#222" stroke-width="0.6"/>
<text x="327.00" y="200.90" font-size="4.3" text-anchor="middle" fill="#222">0</text>
<line x1="328.20" y1="194.30" x2="328.20" y2="195.60" stroke="#222" stroke-width="0.6"/>
<text x="334.20" y="200.90" font-size="4.3" text-anchor="middle" fill="#222">100</text>
<line x1="334.20" y1="194.30" x2="334.20" y2="195.60" stroke="#222" stroke-width="0.6"/>
<text x="343.80" y="200.90" font-size="4.3" text-anchor="middle" fill="#222">1000</text>
<line x1="343.80" y1="194.30" x2="343.80" y2="195.60" stroke="#222" stroke-width="0.6"/>
<text x="355.60" y="200.90" font-size="4.3" text-anchor="middle" fill="#222">10000</text>
<line x1="355.60" y1="194.30" x2="355.60" y2="195.60" stroke="#222" stroke-width="0.6"/>
<text x="367.60" y="200.90" font-size="4.3" text-anchor="middle" fill="#222">1x10<tspan dy="-1.6" font-size="2.9">5</tspan></text>
<line x1="367.60" y1="194.30" x2="367.60" y2="195.60" stroke="#222" stroke-width="0.6"/>
<path d="M328.60 193.40H349.60" stroke="#222" stroke-width="1.0" stroke-dasharray="0.6 0.9" opacity="0.8"/>
<text x="325.20" y="149.40" font-size="4.3" fill="#222">0.39</text>
<text x="372.00" y="149.40" font-size="4.3" text-anchor="end" fill="#222">1.84</text>
<text x="325.20" y="192.70" font-size="4.3" fill="#222">96.2</text>
<text x="372.00" y="192.70" font-size="4.3" text-anchor="end" fill="#222">2.82</text>
<text x="347.80" y="138.80" font-size="7.9" text-anchor="middle">DMSO</text>
<path d="M418.6 165.8L418.6 166.2L418.2 167.1L417.5 168.6L416.7 170.5L415.7 172.7L414.5 175.3L413.2 177.8L411.7 180.3L410.1 182.4L408.3 184.0L406.5 185.0L404.7 185.3L403.0 185.0L401.6 184.1L400.6 182.8L400.2 181.1L400.4 179.3L401.2 177.4L402.7 175.5L404.7 173.7L407.0 172.1L409.5 170.6L411.9 169.3L414.1 168.1L416.0 167.1L417.3 166.3L418.2 165.9Z" fill="none" stroke="#000" stroke-opacity="0.38" stroke-width="0.4" stroke-linejoin="round"/>
<path d="M417.0 167.5L417.0 167.9L416.7 168.7L416.1 169.9L415.3 171.6L414.4 173.6L413.4 175.8L412.2 178.1L410.9 180.2L409.5 182.0L407.9 183.5L406.3 184.3L404.7 184.6L403.2 184.4L402.0 183.6L401.2 182.5L400.8 181.0L401.0 179.4L401.8 177.7L403.1 176.1L404.8 174.5L406.9 173.1L409.0 171.8L411.2 170.6L413.1 169.5L414.7 168.6L415.9 168.0L416.7 167.6Z" fill="none" stroke="#000" stroke-opacity="0.42" stroke-width="0.4" stroke-linejoin="round"/>
<path d="M415.5 169.1L415.5 169.4L415.2 170.1L414.7 171.2L414.0 172.7L413.3 174.4L412.4 176.3L411.3 178.3L410.2 180.2L409.0 181.8L407.6 183.0L406.2 183.8L404.8 184.1L403.5 183.8L402.5 183.2L401.7 182.1L401.4 180.9L401.6 179.5L402.2 178.0L403.4 176.6L404.9 175.2L406.7 174.0L408.6 172.8L410.4 171.8L412.1 170.9L413.5 170.1L414.6 169.5L415.2 169.2Z" fill="none" stroke="#000" stroke-opacity="0.48" stroke-width="0.4" stroke-linejoin="round"/>
<path d="M414.1 170.7L414.0 171.0L413.8 171.6L413.4 172.5L412.8 173.8L412.1 175.3L411.4 176.9L410.5 178.6L409.6 180.2L408.5 181.6L407.3 182.6L406.1 183.3L404.9 183.5L403.8 183.3L402.9 182.7L402.2 181.8L401.9 180.7L402.1 179.5L402.6 178.3L403.6 177.0L404.9 175.9L406.4 174.8L408.1 173.8L409.7 172.9L411.1 172.2L412.3 171.5L413.2 171.0L413.8 170.7Z" fill="none" stroke="#000" stroke-opacity="0.52" stroke-width="0.4" stroke-linejoin="round"/>
<path d="M412.6 172.3L412.6 172.5L412.4 173.0L412.0 173.8L411.6 174.9L411.0 176.1L410.4 177.5L409.7 178.9L409.0 180.3L408.1 181.4L407.1 182.3L406.1 182.8L405.1 183.0L404.1 182.8L403.3 182.2L402.7 181.5L402.5 180.5L402.5 179.5L403.0 178.4L403.8 177.4L404.9 176.5L406.2 175.6L407.5 174.8L408.9 174.1L410.1 173.5L411.1 172.9L411.9 172.6L412.4 172.3Z" fill="none" stroke="#000" stroke-opacity="0.55" stroke-width="0.4" stroke-linejoin="round"/>
<ellipse cx="405.54" cy="179.76" rx="6.20" ry="4.20" transform="rotate(-68 405.60 179.80)" fill="none" stroke="#000" stroke-opacity="0.62" stroke-width="0.45"/>
<ellipse cx="405.70" cy="179.92" rx="5.49" ry="3.72" transform="rotate(-68 405.60 179.80)" fill="none" stroke="#000" stroke-opacity="0.62" stroke-width="0.45"/>
<ellipse cx="405.51" cy="179.91" rx="4.78" ry="3.24" transform="rotate(-68 405.60 179.80)" fill="none" stroke="#000" stroke-opacity="0.62" stroke-width="0.45"/>
<ellipse cx="405.74" cy="179.81" rx="4.07" ry="2.76" transform="rotate(-68 405.60 179.80)" fill="none" stroke="#000" stroke-opacity="0.62" stroke-width="0.45"/>
<ellipse cx="405.62" cy="179.71" rx="3.37" ry="2.28" transform="rotate(-68 405.60 179.80)" fill="none" stroke="#000" stroke-opacity="0.62" stroke-width="0.45"/>
<ellipse cx="405.61" cy="179.80" rx="2.66" ry="1.80" transform="rotate(-68 405.60 179.80)" fill="none" stroke="#000" stroke-opacity="0.62" stroke-width="0.45"/>
<ellipse cx="405.63" cy="179.66" rx="1.95" ry="1.32" transform="rotate(-68 405.60 179.80)" fill="none" stroke="#000" stroke-opacity="0.62" stroke-width="0.45"/>
<ellipse cx="405.74" cy="179.80" rx="1.24" ry="0.84" transform="rotate(-68 405.60 179.80)" fill="none" stroke="#000" stroke-opacity="0.62" stroke-width="0.45"/>
<ellipse cx="405.40" cy="180.00" rx="5.20" ry="3.40" transform="rotate(-68 405.40 180.00)" fill="#000" fill-opacity="0.38"/>
<path d="M403.5 188.6h.01M400.9 181.6h.01M406.5 176.7h.01M401.9 181.9h.01M418.8 162.7h.01M411.2 181.3h.01M415.0 175.2h.01M407.0 165.9h.01M403.9 182.3h.01M415.3 178.3h.01M410.3 173.6h.01M408.0 176.1h.01M411.9 177.7h.01M403.9 176.3h.01M407.1 185.3h.01M418.8 172.9h.01M415.9 174.8h.01M410.5 179.1h.01M401.8 182.3h.01M406.6 183.5h.01M404.8 179.9h.01M415.0 179.0h.01M400.9 178.5h.01M409.5 168.9h.01M409.1 172.6h.01M402.0 171.8h.01M410.8 171.4h.01M409.9 188.7h.01M423.6 184.1h.01M409.6 173.6h.01M414.1 181.5h.01M409.7 178.6h.01M408.4 171.2h.01M407.5 174.7h.01M404.1 186.8h.01M412.4 173.5h.01M396.9 175.8h.01M410.8 173.9h.01M398.7 186.3h.01M399.7 185.5h.01M410.3 177.3h.01M410.2 176.3h.01M400.7 182.2h.01M404.8 179.1h.01M411.9 177.4h.01M409.5 159.6h.01M410.0 174.1h.01M424.2 167.1h.01M400.3 187.6h.01M408.6 183.1h.01M402.1 182.6h.01M407.3 177.4h.01M399.2 174.5h.01M414.2 177.6h.01M404.8 174.1h.01M411.3 177.7h.01M407.4 177.9h.01M412.8 165.5h.01M399.2 174.1h.01M402.1 178.6h.01" stroke="#000" stroke-opacity="0.45" stroke-width="0.64" stroke-linecap="round" fill="none"/>
<ellipse cx="427.85" cy="170.60" rx="4.80" ry="2.30" transform="rotate(-68 427.80 170.60)" fill="none" stroke="#000" stroke-opacity="0.55" stroke-width="0.45"/>
<ellipse cx="428.04" cy="170.75" rx="2.88" ry="1.38" transform="rotate(-68 427.80 170.60)" fill="none" stroke="#000" stroke-opacity="0.55" stroke-width="0.45"/>
<ellipse cx="432.48" cy="154.61" rx="3.00" ry="1.40" transform="rotate(-30 432.60 154.40)" fill="none" stroke="#000" stroke-opacity="0.4" stroke-width="0.4"/>
<ellipse cx="432.72" cy="154.54" rx="1.65" ry="0.77" transform="rotate(-30 432.60 154.40)" fill="none" stroke="#000" stroke-opacity="0.4" stroke-width="0.4"/>
<path d="M427.0 160.2h.01M430.5 152.2h.01M421.8 165.1h.01M425.7 161.9h.01M426.8 163.8h.01M428.3 169.1h.01M431.4 158.4h.01M422.1 167.9h.01M435.2 165.9h.01M424.4 165.6h.01M422.7 166.6h.01M424.1 169.6h.01M433.0 155.3h.01M422.0 164.7h.01M428.7 162.7h.01M420.9 169.8h.01M430.5 165.8h.01M430.7 160.5h.01M427.7 166.4h.01M433.6 167.3h.01M423.1 170.3h.01M431.7 155.9h.01M432.9 155.3h.01M427.5 162.6h.01M420.6 170.9h.01M437.4 151.5h.01M432.6 161.8h.01M432.6 162.1h.01M426.5 165.3h.01M430.5 157.5h.01M422.8 171.7h.01M427.7 168.2h.01M422.7 166.8h.01M430.9 168.3h.01M428.3 164.5h.01M428.8 164.4h.01M434.9 160.5h.01M425.8 176.0h.01M427.2 163.5h.01M436.0 149.2h.01M437.3 153.7h.01M425.7 171.0h.01M430.3 159.3h.01M419.0 177.6h.01M424.5 163.5h.01M433.8 152.6h.01M425.8 165.9h.01M423.2 167.6h.01M429.1 163.9h.01M426.0 166.9h.01M424.5 173.2h.01M425.9 168.9h.01M423.5 168.7h.01M425.6 160.9h.01M436.5 149.0h.01M425.8 163.3h.01M437.2 156.4h.01M425.5 160.1h.01M427.8 168.0h.01M423.1 165.3h.01" stroke="#000" stroke-opacity="0.5" stroke-width="0.64" stroke-linecap="round" fill="none"/>
<path d="M399.6 165.7h.01M410.4 156.2h.01M429.9 175.6h.01M417.4 157.6h.01M418.7 167.1h.01M409.3 161.0h.01M410.3 162.6h.01M429.3 153.5h.01M400.1 168.9h.01M411.8 171.4h.01M420.9 163.1h.01M402.7 149.7h.01M419.1 157.5h.01M410.9 148.3h.01M410.8 155.4h.01M410.2 167.8h.01M411.9 152.0h.01M415.5 171.2h.01M400.8 147.7h.01M409.1 169.7h.01M434.8 152.4h.01M418.2 158.0h.01" stroke="#000" stroke-opacity="0.4" stroke-width="0.64" stroke-linecap="round" fill="none"/>
<rect x="392.40" y="144.30" width="49.30" height="50.00" fill="none" stroke="#262626" stroke-width="1.0"/>
<line x1="418.60" y1="144.30" x2="418.60" y2="194.30" stroke="#262626" stroke-width="1.05"/>
<line x1="392.40" y1="166.00" x2="441.70" y2="166.00" stroke="#262626" stroke-width="1.05"/>
<text x="389.80" y="150.60" font-size="4.3" text-anchor="end" fill="#222">1x10<tspan dy="-1.6" font-size="2.9">5</tspan></text>
<line x1="391.00" y1="149.10" x2="392.40" y2="149.10" stroke="#222" stroke-width="0.6"/>
<text x="389.80" y="161.80" font-size="4.3" text-anchor="end" fill="#222">10000</text>
<line x1="391.00" y1="160.30" x2="392.40" y2="160.30" stroke="#222" stroke-width="0.6"/>
<text x="389.80" y="173.30" font-size="4.3" text-anchor="end" fill="#222">1000</text>
<line x1="391.00" y1="171.80" x2="392.40" y2="171.80" stroke="#222" stroke-width="0.6"/>
<text x="389.80" y="184.80" font-size="4.3" text-anchor="end" fill="#222">100</text>
<line x1="391.00" y1="183.30" x2="392.40" y2="183.30" stroke="#222" stroke-width="0.6"/>
<text x="389.80" y="190.60" font-size="4.3" text-anchor="end" fill="#222">0</text>
<line x1="391.00" y1="189.10" x2="392.40" y2="189.10" stroke="#222" stroke-width="0.6"/>
<text x="395.80" y="200.90" font-size="4.3" text-anchor="middle" fill="#222">0</text>
<line x1="397.00" y1="194.30" x2="397.00" y2="195.60" stroke="#222" stroke-width="0.6"/>
<text x="403.00" y="200.90" font-size="4.3" text-anchor="middle" fill="#222">100</text>
<line x1="403.00" y1="194.30" x2="403.00" y2="195.60" stroke="#222" stroke-width="0.6"/>
<text x="412.60" y="200.90" font-size="4.3" text-anchor="middle" fill="#222">1000</text>
<line x1="412.60" y1="194.30" x2="412.60" y2="195.60" stroke="#222" stroke-width="0.6"/>
<text x="424.40" y="200.90" font-size="4.3" text-anchor="middle" fill="#222">10000</text>
<line x1="424.40" y1="194.30" x2="424.40" y2="195.60" stroke="#222" stroke-width="0.6"/>
<text x="436.40" y="200.90" font-size="4.3" text-anchor="middle" fill="#222">1x10<tspan dy="-1.6" font-size="2.9">5</tspan></text>
<line x1="436.40" y1="194.30" x2="436.40" y2="195.60" stroke="#222" stroke-width="0.6"/>
<path d="M397.40 193.40H418.40" stroke="#222" stroke-width="1.0" stroke-dasharray="0.6 0.9" opacity="0.8"/>
<text x="394.00" y="149.50" font-size="4.3" fill="#222">0.151</text>
<text x="440.30" y="149.50" font-size="4.3" text-anchor="end" fill="#222">1.29</text>
<text x="394.00" y="192.70" font-size="4.3" fill="#222">96.1</text>
<text x="440.30" y="192.70" font-size="4.3" text-anchor="end" fill="#222">2.40</text>
<text x="416.80" y="138.80" font-size="7.9" text-anchor="middle">AI-4-88 10µM</text>
<text x="416.00" y="214.50" font-size="7.9" text-anchor="middle">AI-10-104</text>
<line x1="334.80" y1="217.90" x2="497.60" y2="217.90" stroke="#111" stroke-width="1.0"/>
<path d="M348.6 251.6L348.6 252.0L348.2 252.9L347.5 254.4L346.7 256.3L345.7 258.5L344.5 261.1L343.2 263.6L341.7 266.1L340.1 268.2L338.3 269.8L336.5 270.8L334.7 271.1L333.0 270.8L331.6 269.9L330.6 268.6L330.2 266.9L330.4 265.1L331.2 263.2L332.7 261.3L334.7 259.5L337.0 257.9L339.5 256.4L341.9 255.1L344.1 253.9L346.0 252.9L347.3 252.1L348.2 251.7Z" fill="none" stroke="#000" stroke-opacity="0.38" stroke-width="0.4" stroke-linejoin="round"/>
<path d="M347.0 253.3L347.0 253.7L346.7 254.5L346.1 255.7L345.3 257.4L344.4 259.4L343.4 261.6L342.2 263.9L340.9 266.0L339.5 267.8L337.9 269.3L336.3 270.1L334.7 270.4L333.2 270.2L332.0 269.4L331.2 268.3L330.8 266.8L331.0 265.2L331.8 263.5L333.1 261.9L334.8 260.3L336.9 258.9L339.0 257.6L341.2 256.4L343.1 255.3L344.7 254.4L345.9 253.8L346.7 253.4Z" fill="none" stroke="#000" stroke-opacity="0.42" stroke-width="0.4" stroke-linejoin="round"/>
<path d="M345.5 254.9L345.5 255.2L345.2 255.9L344.7 257.0L344.0 258.5L343.3 260.2L342.4 262.1L341.3 264.1L340.2 266.0L339.0 267.6L337.6 268.8L336.2 269.6L334.8 269.9L333.5 269.6L332.5 269.0L331.7 267.9L331.4 266.7L331.6 265.3L332.2 263.8L333.4 262.4L334.9 261.0L336.7 259.8L338.6 258.6L340.4 257.6L342.1 256.7L343.5 255.9L344.6 255.3L345.2 255.0Z" fill="none" stroke="#000" stroke-opacity="0.48" stroke-width="0.4" stroke-linejoin="round"/>
<path d="M344.1 256.5L344.0 256.8L343.8 257.4L343.4 258.3L342.8 259.6L342.1 261.1L341.4 262.7L340.5 264.4L339.6 266.0L338.5 267.4L337.3 268.4L336.1 269.1L334.9 269.3L333.8 269.1L332.9 268.5L332.2 267.6L331.9 266.5L332.1 265.3L332.6 264.1L333.6 262.8L334.9 261.7L336.4 260.6L338.1 259.6L339.7 258.7L341.1 258.0L342.3 257.3L343.2 256.8L343.8 256.5Z" fill="none" stroke="#000" stroke-opacity="0.52" stroke-width="0.4" stroke-linejoin="round"/>
<path d="M342.6 258.1L342.6 258.3L342.4 258.8L342.0 259.6L341.6 260.7L341.0 261.9L340.4 263.3L339.7 264.7L339.0 266.1L338.1 267.2L337.1 268.1L336.1 268.6L335.1 268.8L334.1 268.6L333.3 268.0L332.7 267.3L332.5 266.3L332.5 265.3L333.0 264.2L333.8 263.2L334.9 262.3L336.2 261.4L337.5 260.6L338.9 259.9L340.1 259.3L341.1 258.7L341.9 258.4L342.4 258.1Z" fill="none" stroke="#000" stroke-opacity="0.55" stroke-width="0.4" stroke-linejoin="round"/>
<ellipse cx="335.62" cy="265.60" rx="6.20" ry="4.20" transform="rotate(-68 335.60 265.60)" fill="none" stroke="#000" stroke-opacity="0.62" stroke-width="0.45"/>
<ellipse cx="335.66" cy="265.54" rx="5.49" ry="3.72" transform="rotate(-68 335.60 265.60)" fill="none" stroke="#000" stroke-opacity="0.62" stroke-width="0.45"/>
<ellipse cx="335.68" cy="265.47" rx="4.78" ry="3.24" transform="rotate(-68 335.60 265.60)" fill="none" stroke="#000" stroke-opacity="0.62" stroke-width="0.45"/>
<ellipse cx="335.51" cy="265.65" rx="4.07" ry="2.76" transform="rotate(-68 335.60 265.60)" fill="none" stroke="#000" stroke-opacity="0.62" stroke-width="0.45"/>
<ellipse cx="335.47" cy="265.54" rx="3.37" ry="2.28" transform="rotate(-68 335.60 265.60)" fill="none" stroke="#000" stroke-opacity="0.62" stroke-width="0.45"/>
<ellipse cx="335.67" cy="265.66" rx="2.66" ry="1.80" transform="rotate(-68 335.60 265.60)" fill="none" stroke="#000" stroke-opacity="0.62" stroke-width="0.45"/>
<ellipse cx="335.53" cy="265.49" rx="1.95" ry="1.32" transform="rotate(-68 335.60 265.60)" fill="none" stroke="#000" stroke-opacity="0.62" stroke-width="0.45"/>
<ellipse cx="335.56" cy="265.67" rx="1.24" ry="0.84" transform="rotate(-68 335.60 265.60)" fill="none" stroke="#000" stroke-opacity="0.62" stroke-width="0.45"/>
<ellipse cx="335.40" cy="265.80" rx="5.20" ry="3.40" transform="rotate(-68 335.40 265.80)" fill="#000" fill-opacity="0.38"/>
<path d="M337.7 265.9h.01M332.5 260.7h.01M346.4 247.4h.01M341.8 255.8h.01M337.4 258.7h.01M339.0 268.1h.01M346.7 249.1h.01M341.5 265.8h.01M337.1 268.6h.01M335.9 269.2h.01M344.7 264.2h.01M336.7 256.9h.01M338.7 255.5h.01M347.5 263.4h.01M340.0 257.7h.01M345.7 256.6h.01M330.2 268.7h.01M345.5 253.8h.01M338.0 261.0h.01M327.2 270.7h.01M341.1 261.4h.01M330.6 257.0h.01M347.6 258.2h.01M348.3 261.1h.01M334.0 263.4h.01M345.5 266.3h.01M328.1 271.6h.01M336.1 268.6h.01M345.7 253.6h.01M331.5 270.0h.01M331.9 259.5h.01M341.7 256.1h.01M338.1 254.7h.01M340.0 252.0h.01M338.6 251.1h.01M345.0 253.8h.01M328.9 270.9h.01M337.2 257.7h.01M336.5 266.4h.01M327.7 254.0h.01M337.3 266.6h.01M343.3 264.3h.01M342.6 274.8h.01M343.9 259.3h.01M347.6 259.7h.01M337.0 260.2h.01M345.5 258.4h.01M324.2 270.0h.01M341.4 260.5h.01M342.0 263.3h.01M344.3 267.0h.01M333.8 264.9h.01M342.6 263.3h.01M347.6 263.1h.01M339.4 269.2h.01M337.7 256.8h.01M344.3 270.2h.01M341.3 256.9h.01M334.7 267.0h.01" stroke="#000" stroke-opacity="0.45" stroke-width="0.64" stroke-linecap="round" fill="none"/>
<ellipse cx="363.37" cy="242.22" rx="3.60" ry="1.80" transform="rotate(-28 363.60 242.00)" fill="none" stroke="#000" stroke-opacity="0.55" stroke-width="0.4"/>
<ellipse cx="363.75" cy="241.94" rx="2.52" ry="1.26" transform="rotate(-28 363.60 242.00)" fill="none" stroke="#000" stroke-opacity="0.55" stroke-width="0.4"/>
<ellipse cx="363.61" cy="242.01" rx="1.44" ry="0.72" transform="rotate(-28 363.60 242.00)" fill="none" stroke="#000" stroke-opacity="0.55" stroke-width="0.4"/>
<ellipse cx="359.49" cy="258.25" rx="6.20" ry="1.60" transform="rotate(-58 359.60 258.00)" fill="none" stroke="#000" stroke-opacity="0.5" stroke-width="0.4"/>
<ellipse cx="359.68" cy="257.87" rx="4.65" ry="1.20" transform="rotate(-58 359.60 258.00)" fill="none" stroke="#000" stroke-opacity="0.5" stroke-width="0.4"/>
<ellipse cx="359.36" cy="257.99" rx="3.10" ry="0.80" transform="rotate(-58 359.60 258.00)" fill="none" stroke="#000" stroke-opacity="0.5" stroke-width="0.4"/>
<path d="M357.4 261.5h.01M355.1 250.3h.01M362.8 248.3h.01M360.2 253.7h.01M361.7 242.3h.01M344.1 261.9h.01M362.5 252.9h.01M368.3 244.6h.01M368.9 235.9h.01M361.1 239.5h.01M364.3 245.4h.01M358.4 250.0h.01M355.0 258.7h.01M365.2 239.7h.01M360.8 244.9h.01M358.6 246.5h.01M361.2 246.8h.01M360.0 246.6h.01M353.6 258.5h.01M369.0 244.6h.01M360.5 253.7h.01M364.6 244.8h.01M353.4 262.4h.01M358.4 259.3h.01M365.3 245.0h.01M349.5 270.3h.01M360.1 242.6h.01M364.8 242.7h.01M357.3 250.3h.01M354.0 257.1h.01M359.3 247.4h.01M355.7 253.8h.01M358.0 258.2h.01M360.9 253.4h.01M356.9 260.3h.01M361.6 251.3h.01M357.2 249.4h.01M364.7 240.1h.01M357.0 249.7h.01M360.0 247.8h.01M362.2 248.4h.01M353.1 253.0h.01M364.4 248.2h.01M360.4 242.9h.01M363.9 246.0h.01M362.4 248.5h.01M359.0 252.8h.01M363.1 242.1h.01M352.9 260.8h.01M356.2 245.6h.01M358.3 256.1h.01M359.5 251.3h.01M356.3 261.1h.01M367.9 236.3h.01M353.6 253.7h.01M364.5 243.4h.01M359.3 258.0h.01M365.2 245.1h.01M351.3 263.3h.01M359.9 243.3h.01M368.1 245.2h.01M363.1 241.0h.01M359.0 256.9h.01M367.9 244.4h.01M365.5 240.7h.01M353.3 250.2h.01M369.5 247.6h.01M356.6 252.8h.01M364.0 245.6h.01" stroke="#000" stroke-opacity="0.5" stroke-width="0.64" stroke-linecap="round" fill="none"/>
<path d="M329.3 257.6h.01M347.1 270.8h.01M343.7 260.9h.01M366.3 247.1h.01M332.6 258.5h.01M337.2 254.5h.01M342.7 238.3h.01M363.7 246.0h.01M352.4 266.1h.01M353.0 256.7h.01M344.5 244.2h.01M341.1 252.6h.01M351.0 245.5h.01M337.0 249.9h.01M330.3 248.4h.01M341.8 263.5h.01M344.5 248.5h.01M354.0 253.1h.01M354.6 249.2h.01M338.8 253.3h.01M337.9 256.0h.01M336.0 254.8h.01M342.3 250.3h.01" stroke="#000" stroke-opacity="0.4" stroke-width="0.64" stroke-linecap="round" fill="none"/>
<rect x="323.20" y="232.00" width="49.20" height="49.60" fill="none" stroke="#262626" stroke-width="1.0"/>
<line x1="349.20" y1="232.00" x2="349.20" y2="281.60" stroke="#262626" stroke-width="1.05"/>
<line x1="323.20" y1="253.30" x2="372.40" y2="253.30" stroke="#262626" stroke-width="1.05"/>
<text x="320.60" y="238.30" font-size="4.3" text-anchor="end" fill="#222">1x10<tspan dy="-1.6" font-size="2.9">5</tspan></text>
<line x1="321.80" y1="236.80" x2="323.20" y2="236.80" stroke="#222" stroke-width="0.6"/>
<text x="320.60" y="249.50" font-size="4.3" text-anchor="end" fill="#222">10000</text>
<line x1="321.80" y1="248.00" x2="323.20" y2="248.00" stroke="#222" stroke-width="0.6"/>
<text x="320.60" y="261.00" font-size="4.3" text-anchor="end" fill="#222">1000</text>
<line x1="321.80" y1="259.50" x2="323.20" y2="259.50" stroke="#222" stroke-width="0.6"/>
<text x="320.60" y="272.50" font-size="4.3" text-anchor="end" fill="#222">100</text>
<line x1="321.80" y1="271.00" x2="323.20" y2="271.00" stroke="#222" stroke-width="0.6"/>
<text x="320.60" y="278.30" font-size="4.3" text-anchor="end" fill="#222">0</text>
<line x1="321.80" y1="276.80" x2="323.20" y2="276.80" stroke="#222" stroke-width="0.6"/>
<text x="326.60" y="288.20" font-size="4.3" text-anchor="middle" fill="#222">0</text>
<line x1="327.80" y1="281.60" x2="327.80" y2="282.90" stroke="#222" stroke-width="0.6"/>
<text x="333.80" y="288.20" font-size="4.3" text-anchor="middle" fill="#222">100</text>
<line x1="333.80" y1="281.60" x2="333.80" y2="282.90" stroke="#222" stroke-width="0.6"/>
<text x="343.40" y="288.20" font-size="4.3" text-anchor="middle" fill="#222">1000</text>
<line x1="343.40" y1="281.60" x2="343.40" y2="282.90" stroke="#222" stroke-width="0.6"/>
<text x="355.20" y="288.20" font-size="4.3" text-anchor="middle" fill="#222">10000</text>
<line x1="355.20" y1="281.60" x2="355.20" y2="282.90" stroke="#222" stroke-width="0.6"/>
<text x="367.20" y="288.20" font-size="4.3" text-anchor="middle" fill="#222">1x10<tspan dy="-1.6" font-size="2.9">5</tspan></text>
<line x1="367.20" y1="281.60" x2="367.20" y2="282.90" stroke="#222" stroke-width="0.6"/>
<path d="M328.20 280.70H349.20" stroke="#222" stroke-width="1.0" stroke-dasharray="0.6 0.9" opacity="0.8"/>
<text x="324.80" y="237.20" font-size="4.3" fill="#222">0.254</text>
<text x="371.00" y="237.20" font-size="4.3" text-anchor="end" fill="#222">1.88</text>
<text x="324.80" y="280.00" font-size="4.3" fill="#222">95.9</text>
<text x="371.00" y="280.00" font-size="4.3" text-anchor="end" fill="#222">1.98</text>
<text x="343.40" y="227.30" font-size="7.8" text-anchor="middle">2.5µM</text>
<path d="M413.8 254.2L414.2 254.7L414.3 255.7L414.2 257.1L413.9 258.9L413.5 261.0L412.8 263.2L412.1 265.5L411.1 267.6L409.9 269.5L408.6 271.0L407.1 272.0L405.5 272.6L404.0 272.5L402.7 272.0L401.6 271.0L401.0 269.7L400.7 268.1L401.0 266.3L401.8 264.4L403.0 262.5L404.5 260.7L406.1 259.0L407.9 257.5L409.6 256.2L411.0 255.2L412.3 254.4L413.2 254.1Z" fill="none" stroke="#000" stroke-opacity="0.36" stroke-width="0.4" stroke-linejoin="round"/>
<path d="M412.6 256.2L412.9 256.6L413.0 257.5L412.9 258.7L412.7 260.2L412.3 262.0L411.8 263.9L411.1 265.9L410.3 267.7L409.3 269.3L408.1 270.6L406.9 271.5L405.5 271.9L404.2 271.9L403.1 271.4L402.1 270.6L401.5 269.4L401.3 268.0L401.6 266.5L402.2 264.9L403.2 263.3L404.5 261.7L406.0 260.3L407.5 259.0L408.9 257.9L410.2 257.0L411.2 256.4L412.0 256.1Z" fill="none" stroke="#000" stroke-opacity="0.42" stroke-width="0.4" stroke-linejoin="round"/>
<path d="M411.4 258.0L411.7 258.4L411.8 259.1L411.8 260.2L411.6 261.5L411.3 263.0L410.9 264.6L410.3 266.3L409.6 267.8L408.8 269.2L407.8 270.3L406.7 271.0L405.5 271.4L404.4 271.3L403.4 270.9L402.6 270.2L402.0 269.2L401.8 268.0L402.0 266.7L402.6 265.3L403.4 263.9L404.5 262.6L405.7 261.4L407.0 260.3L408.3 259.4L409.4 258.7L410.3 258.2L411.0 257.9Z" fill="none" stroke="#000" stroke-opacity="0.48" stroke-width="0.4" stroke-linejoin="round"/>
<ellipse cx="406.55" cy="265.59" rx="6.00" ry="3.80" transform="rotate(-62 406.50 265.70)" fill="none" stroke="#000" stroke-opacity="0.62" stroke-width="0.45"/>
<ellipse cx="406.64" cy="265.73" rx="5.31" ry="3.37" transform="rotate(-62 406.50 265.70)" fill="none" stroke="#000" stroke-opacity="0.62" stroke-width="0.45"/>
<ellipse cx="406.49" cy="265.67" rx="4.63" ry="2.93" transform="rotate(-62 406.50 265.70)" fill="none" stroke="#000" stroke-opacity="0.62" stroke-width="0.45"/>
<ellipse cx="406.54" cy="265.76" rx="3.94" ry="2.50" transform="rotate(-62 406.50 265.70)" fill="none" stroke="#000" stroke-opacity="0.62" stroke-width="0.45"/>
<ellipse cx="406.58" cy="265.78" rx="3.26" ry="2.06" transform="rotate(-62 406.50 265.70)" fill="none" stroke="#000" stroke-opacity="0.62" stroke-width="0.45"/>
<ellipse cx="406.50" cy="265.85" rx="2.57" ry="1.63" transform="rotate(-62 406.50 265.70)" fill="none" stroke="#000" stroke-opacity="0.62" stroke-width="0.45"/>
<ellipse cx="406.60" cy="265.81" rx="1.89" ry="1.19" transform="rotate(-62 406.50 265.70)" fill="none" stroke="#000" stroke-opacity="0.62" stroke-width="0.45"/>
<ellipse cx="406.47" cy="265.68" rx="1.20" ry="0.76" transform="rotate(-62 406.50 265.70)" fill="none" stroke="#000" stroke-opacity="0.62" stroke-width="0.45"/>
<ellipse cx="406.5" cy="265.7" rx="5.0" ry="3.2" transform="rotate(-62 406.5 265.7)" fill="#000" fill-opacity="0.32"/>
<ellipse cx="406.6" cy="265.6" rx="1.5" ry="0.7" transform="rotate(-62 406.6 265.6)" fill="#fff" fill-opacity="0.8"/>
<ellipse cx="427.63" cy="252.60" rx="12.50" ry="6.60" transform="rotate(-52 427.60 252.40)" fill="none" stroke="#000" stroke-opacity="0.42" stroke-width="0.4"/>
<ellipse cx="427.61" cy="252.41" rx="11.09" ry="5.86" transform="rotate(-52 427.60 252.40)" fill="none" stroke="#000" stroke-opacity="0.42" stroke-width="0.4"/>
<ellipse cx="427.57" cy="252.60" rx="9.69" ry="5.12" transform="rotate(-52 427.60 252.40)" fill="none" stroke="#000" stroke-opacity="0.42" stroke-width="0.4"/>
<ellipse cx="427.51" cy="252.18" rx="8.28" ry="4.37" transform="rotate(-52 427.60 252.40)" fill="none" stroke="#000" stroke-opacity="0.42" stroke-width="0.4"/>
<ellipse cx="427.71" cy="252.60" rx="6.88" ry="3.63" transform="rotate(-52 427.60 252.40)" fill="none" stroke="#000" stroke-opacity="0.42" stroke-width="0.4"/>
<ellipse cx="430.67" cy="251.63" rx="6.80" ry="3.80" transform="rotate(-58 430.60 251.60)" fill="none" stroke="#000" stroke-opacity="0.6" stroke-width="0.45"/>
<ellipse cx="430.68" cy="251.54" rx="6.02" ry="3.37" transform="rotate(-58 430.60 251.60)" fill="none" stroke="#000" stroke-opacity="0.6" stroke-width="0.45"/>
<ellipse cx="430.63" cy="251.47" rx="5.25" ry="2.93" transform="rotate(-58 430.60 251.60)" fill="none" stroke="#000" stroke-opacity="0.6" stroke-width="0.45"/>
<ellipse cx="430.49" cy="251.58" rx="4.47" ry="2.50" transform="rotate(-58 430.60 251.60)" fill="none" stroke="#000" stroke-opacity="0.6" stroke-width="0.45"/>
<ellipse cx="430.60" cy="251.57" rx="3.69" ry="2.06" transform="rotate(-58 430.60 251.60)" fill="none" stroke="#000" stroke-opacity="0.6" stroke-width="0.45"/>
<ellipse cx="430.47" cy="251.66" rx="2.91" ry="1.63" transform="rotate(-58 430.60 251.60)" fill="none" stroke="#000" stroke-opacity="0.6" stroke-width="0.45"/>
<ellipse cx="430.61" cy="251.52" rx="2.14" ry="1.19" transform="rotate(-58 430.60 251.60)" fill="none" stroke="#000" stroke-opacity="0.6" stroke-width="0.45"/>
<ellipse cx="430.54" cy="251.57" rx="1.36" ry="0.76" transform="rotate(-58 430.60 251.60)" fill="none" stroke="#000" stroke-opacity="0.6" stroke-width="0.45"/>
<ellipse cx="430.8" cy="251.6" rx="5.2" ry="2.9" transform="rotate(-58 430.8 251.6)" fill="#000" fill-opacity="0.3"/>
<ellipse cx="419.87" cy="255.78" rx="6.50" ry="4.00" transform="rotate(-40 420.00 256.00)" fill="none" stroke="#000" stroke-opacity="0.4" stroke-width="0.4"/>
<ellipse cx="420.21" cy="256.23" rx="4.88" ry="3.00" transform="rotate(-40 420.00 256.00)" fill="none" stroke="#000" stroke-opacity="0.4" stroke-width="0.4"/>
<ellipse cx="420.08" cy="256.18" rx="3.25" ry="2.00" transform="rotate(-40 420.00 256.00)" fill="none" stroke="#000" stroke-opacity="0.4" stroke-width="0.4"/>
<ellipse cx="425.96" cy="243.15" rx="4.50" ry="3.00" transform="rotate(-30 426.00 243.00)" fill="none" stroke="#000" stroke-opacity="0.35" stroke-width="0.4"/>
<ellipse cx="425.86" cy="243.12" rx="2.25" ry="1.50" transform="rotate(-30 426.00 243.00)" fill="none" stroke="#000" stroke-opacity="0.35" stroke-width="0.4"/>
<path d="M396.7 273.0h.01M434.9 248.4h.01M429.2 252.9h.01M418.3 257.7h.01M421.3 260.7h.01M417.6 260.6h.01M427.4 240.7h.01M413.1 266.9h.01M415.0 259.9h.01M438.8 240.2h.01M418.0 265.7h.01M412.3 264.6h.01M419.8 271.5h.01M421.4 251.8h.01M419.7 250.7h.01M412.8 263.9h.01M426.6 258.9h.01M431.6 258.0h.01M422.7 254.4h.01M413.8 256.2h.01M428.8 238.8h.01M415.0 257.3h.01M402.9 257.4h.01M415.0 262.0h.01M422.3 259.7h.01M414.2 257.2h.01M423.2 257.5h.01M404.3 260.9h.01M412.3 271.2h.01M424.0 245.7h.01M422.0 259.9h.01M427.9 243.5h.01M420.8 265.2h.01M409.1 270.1h.01M415.0 260.5h.01M410.2 262.4h.01M424.3 264.5h.01M425.9 253.1h.01M415.6 255.1h.01M420.3 264.5h.01M432.6 257.3h.01M420.3 255.5h.01M404.5 274.3h.01M407.5 279.2h.01M412.2 263.8h.01M403.8 268.7h.01M413.4 270.6h.01M416.1 251.5h.01M400.0 275.5h.01M409.6 258.5h.01M422.8 251.9h.01M416.9 254.9h.01M411.1 261.6h.01M405.5 275.0h.01M415.6 248.2h.01M423.0 261.1h.01M424.8 260.4h.01M415.5 260.5h.01M402.9 266.7h.01M398.1 271.6h.01M422.1 257.6h.01M429.2 247.8h.01M410.4 268.6h.01M423.0 265.6h.01M439.4 243.4h.01M405.7 266.6h.01M417.2 253.7h.01M425.2 255.6h.01M426.5 251.1h.01M406.9 263.1h.01M421.6 263.8h.01M435.9 247.0h.01M423.7 257.1h.01M430.1 255.0h.01M420.4 244.7h.01M428.1 250.6h.01M415.6 264.1h.01" stroke="#000" stroke-opacity="0.42" stroke-width="0.64" stroke-linecap="round" fill="none"/>
<rect x="392.40" y="231.90" width="49.30" height="49.70" fill="none" stroke="#262626" stroke-width="1.0"/>
<line x1="418.20" y1="231.90" x2="418.20" y2="281.60" stroke="#262626" stroke-width="1.05"/>
<line x1="392.40" y1="253.30" x2="441.70" y2="253.30" stroke="#262626" stroke-width="1.05"/>
<text x="389.80" y="238.20" font-size="4.3" text-anchor="end" fill="#222">1x10<tspan dy="-1.6" font-size="2.9">5</tspan></text>
<line x1="391.00" y1="236.70" x2="392.40" y2="236.70" stroke="#222" stroke-width="0.6"/>
<text x="389.80" y="249.40" font-size="4.3" text-anchor="end" fill="#222">10000</text>
<line x1="391.00" y1="247.90" x2="392.40" y2="247.90" stroke="#222" stroke-width="0.6"/>
<text x="389.80" y="260.90" font-size="4.3" text-anchor="end" fill="#222">1000</text>
<line x1="391.00" y1="259.40" x2="392.40" y2="259.40" stroke="#222" stroke-width="0.6"/>
<text x="389.80" y="272.40" font-size="4.3" text-anchor="end" fill="#222">100</text>
<line x1="391.00" y1="270.90" x2="392.40" y2="270.90" stroke="#222" stroke-width="0.6"/>
<text x="389.80" y="278.20" font-size="4.3" text-anchor="end" fill="#222">0</text>
<line x1="391.00" y1="276.70" x2="392.40" y2="276.70" stroke="#222" stroke-width="0.6"/>
<text x="395.80" y="288.20" font-size="4.3" text-anchor="middle" fill="#222">0</text>
<line x1="397.00" y1="281.60" x2="397.00" y2="282.90" stroke="#222" stroke-width="0.6"/>
<text x="403.00" y="288.20" font-size="4.3" text-anchor="middle" fill="#222">100</text>
<line x1="403.00" y1="281.60" x2="403.00" y2="282.90" stroke="#222" stroke-width="0.6"/>
<text x="412.60" y="288.20" font-size="4.3" text-anchor="middle" fill="#222">1000</text>
<line x1="412.60" y1="281.60" x2="412.60" y2="282.90" stroke="#222" stroke-width="0.6"/>
<text x="424.40" y="288.20" font-size="4.3" text-anchor="middle" fill="#222">10000</text>
<line x1="424.40" y1="281.60" x2="424.40" y2="282.90" stroke="#222" stroke-width="0.6"/>
<text x="436.40" y="288.20" font-size="4.3" text-anchor="middle" fill="#222">1x10<tspan dy="-1.6" font-size="2.9">5</tspan></text>
<line x1="436.40" y1="281.60" x2="436.40" y2="282.90" stroke="#222" stroke-width="0.6"/>
<path d="M397.40 280.70H418.40" stroke="#222" stroke-width="1.0" stroke-dasharray="0.6 0.9" opacity="0.8"/>
<text x="394.00" y="237.10" font-size="4.3" fill="#222">0.248</text>
<text x="440.30" y="237.10" font-size="4.3" text-anchor="end" fill="#222">20.6</text>
<text x="394.00" y="280.00" font-size="4.3" fill="#222">58.5</text>
<text x="440.30" y="280.00" font-size="4.3" text-anchor="end" fill="#222">20.7</text>
<text x="416.40" y="227.40" font-size="7.7" text-anchor="middle">5µM</text>
<ellipse cx="493.24" cy="254.37" rx="11.00" ry="5.20" transform="rotate(-42 493.00 254.60)" fill="none" stroke="#000" stroke-opacity="0.45" stroke-width="0.4"/>
<ellipse cx="492.99" cy="254.73" rx="9.62" ry="4.55" transform="rotate(-42 493.00 254.60)" fill="none" stroke="#000" stroke-opacity="0.45" stroke-width="0.4"/>
<ellipse cx="493.24" cy="254.42" rx="8.25" ry="3.90" transform="rotate(-42 493.00 254.60)" fill="none" stroke="#000" stroke-opacity="0.45" stroke-width="0.4"/>
<ellipse cx="492.98" cy="254.72" rx="6.88" ry="3.25" transform="rotate(-42 493.00 254.60)" fill="none" stroke="#000" stroke-opacity="0.45" stroke-width="0.4"/>
<ellipse cx="492.77" cy="254.47" rx="5.50" ry="2.60" transform="rotate(-42 493.00 254.60)" fill="none" stroke="#000" stroke-opacity="0.45" stroke-width="0.4"/>
<ellipse cx="497.59" cy="252.11" rx="5.60" ry="2.60" transform="rotate(-40 497.50 252.20)" fill="none" stroke="#000" stroke-opacity="0.65" stroke-width="0.45"/>
<ellipse cx="497.47" cy="252.15" rx="4.96" ry="2.30" transform="rotate(-40 497.50 252.20)" fill="none" stroke="#000" stroke-opacity="0.65" stroke-width="0.45"/>
<ellipse cx="497.48" cy="252.10" rx="4.32" ry="2.01" transform="rotate(-40 497.50 252.20)" fill="none" stroke="#000" stroke-opacity="0.65" stroke-width="0.45"/>
<ellipse cx="497.39" cy="252.32" rx="3.68" ry="1.71" transform="rotate(-40 497.50 252.20)" fill="none" stroke="#000" stroke-opacity="0.65" stroke-width="0.45"/>
<ellipse cx="497.56" cy="252.26" rx="3.04" ry="1.41" transform="rotate(-40 497.50 252.20)" fill="none" stroke="#000" stroke-opacity="0.65" stroke-width="0.45"/>
<ellipse cx="497.44" cy="252.14" rx="2.40" ry="1.11" transform="rotate(-40 497.50 252.20)" fill="none" stroke="#000" stroke-opacity="0.65" stroke-width="0.45"/>
<ellipse cx="497.51" cy="252.14" rx="1.76" ry="0.82" transform="rotate(-40 497.50 252.20)" fill="none" stroke="#000" stroke-opacity="0.65" stroke-width="0.45"/>
<ellipse cx="497.49" cy="252.30" rx="1.12" ry="0.52" transform="rotate(-40 497.50 252.20)" fill="none" stroke="#000" stroke-opacity="0.65" stroke-width="0.45"/>
<ellipse cx="497.6" cy="252.1" rx="3.9" ry="1.8" transform="rotate(-40 497.6 252.1)" fill="#000" fill-opacity="0.45"/>
<path d="M493.2 239.8H502.4V250H493.2Z M495.2 241.6H500.6V249H495.2Z M497.2 243.4H499V248H497.2Z" fill="none" stroke="#000" stroke-opacity="0.35" stroke-width="0.4"/>
<path d="M479.4 261.6Q484.4 254 491.8 251.8M480.2 263.6Q488 265.4 495.8 257.6M482.6 262.4Q487.2 262 492.8 256.6" fill="none" stroke="#000" stroke-opacity="0.6" stroke-width="0.5"/>
<path d="M473.9 268.8h.01M483.8 256.3h.01M482.4 259.3h.01M474.2 264.4h.01M473.7 271.6h.01M479.1 256.9h.01M479.4 257.8h.01M469.6 274.9h.01M470.9 273.7h.01M479.1 265.1h.01M481.5 264.0h.01M479.3 263.5h.01M479.8 265.3h.01M475.8 268.5h.01M484.8 255.8h.01M477.5 260.4h.01M474.8 266.2h.01M472.1 263.7h.01M476.2 264.6h.01M479.4 264.0h.01M468.5 276.9h.01M473.3 263.1h.01M474.7 267.0h.01M480.4 258.5h.01M473.5 259.4h.01M476.8 262.8h.01M475.3 268.4h.01M488.9 256.9h.01M474.6 271.8h.01M473.9 265.7h.01M473.5 268.2h.01M479.6 261.4h.01M474.4 264.8h.01M475.7 268.5h.01M472.6 266.4h.01M473.2 263.3h.01M471.5 261.7h.01M479.6 263.1h.01M477.5 269.3h.01M472.3 269.7h.01M477.7 260.2h.01M476.5 267.4h.01M477.0 264.3h.01M484.8 257.1h.01M464.5 271.2h.01M480.7 259.2h.01M465.4 265.1h.01M481.1 265.8h.01M464.0 265.5h.01M477.8 260.1h.01M473.6 264.8h.01M471.6 269.8h.01M482.2 260.0h.01M474.9 269.4h.01M476.6 266.0h.01M471.9 270.5h.01M483.1 263.1h.01M477.1 264.9h.01M474.5 269.1h.01M482.9 262.4h.01M471.1 263.2h.01M475.2 263.9h.01M472.9 269.4h.01M482.4 259.9h.01M483.4 259.0h.01M469.0 267.8h.01M475.4 267.5h.01M481.7 259.4h.01M480.2 256.7h.01M478.5 268.1h.01" stroke="#000" stroke-opacity="0.36" stroke-width="0.64" stroke-linecap="round" fill="none"/>
<path d="M497.4 252.4h.01M476.8 257.9h.01M490.0 259.6h.01M499.4 241.2h.01M483.7 254.7h.01M488.6 258.5h.01M495.5 259.0h.01M494.1 246.1h.01M492.9 250.2h.01M499.0 250.1h.01M492.6 256.4h.01M495.0 248.6h.01M495.3 252.5h.01M488.4 251.9h.01M499.1 244.9h.01M490.0 256.6h.01M484.0 260.4h.01M483.3 258.4h.01M480.1 259.9h.01M496.5 246.5h.01M490.1 263.6h.01M492.7 259.6h.01M485.0 250.8h.01M501.1 240.5h.01M499.6 251.1h.01M484.9 259.5h.01M490.5 256.9h.01M488.5 248.6h.01M494.5 253.8h.01M492.0 255.2h.01M488.9 254.8h.01M494.4 250.4h.01M501.7 247.6h.01M498.7 249.3h.01M489.7 247.9h.01M502.8 250.9h.01" stroke="#000" stroke-opacity="0.4" stroke-width="0.64" stroke-linecap="round" fill="none"/>
<rect x="461.20" y="231.90" width="49.00" height="49.70" fill="none" stroke="#262626" stroke-width="1.0"/>
<line x1="486.90" y1="231.90" x2="486.90" y2="281.60" stroke="#262626" stroke-width="1.05"/>
<line x1="461.20" y1="253.30" x2="510.20" y2="253.30" stroke="#262626" stroke-width="1.05"/>
<text x="458.60" y="238.20" font-size="4.3" text-anchor="end" fill="#222">1x10<tspan dy="-1.6" font-size="2.9">5</tspan></text>
<line x1="459.80" y1="236.70" x2="461.20" y2="236.70" stroke="#222" stroke-width="0.6"/>
<text x="458.60" y="249.40" font-size="4.3" text-anchor="end" fill="#222">10000</text>
<line x1="459.80" y1="247.90" x2="461.20" y2="247.90" stroke="#222" stroke-width="0.6"/>
<text x="458.60" y="260.90" font-size="4.3" text-anchor="end" fill="#222">1000</text>
<line x1="459.80" y1="259.40" x2="461.20" y2="259.40" stroke="#222" stroke-width="0.6"/>
<text x="458.60" y="272.40" font-size="4.3" text-anchor="end" fill="#222">100</text>
<line x1="459.80" y1="270.90" x2="461.20" y2="270.90" stroke="#222" stroke-width="0.6"/>
<text x="458.60" y="278.20" font-size="4.3" text-anchor="end" fill="#222">0</text>
<line x1="459.80" y1="276.70" x2="461.20" y2="276.70" stroke="#222" stroke-width="0.6"/>
<text x="464.60" y="288.20" font-size="4.3" text-anchor="middle" fill="#222">0</text>
<line x1="465.80" y1="281.60" x2="465.80" y2="282.90" stroke="#222" stroke-width="0.6"/>
<text x="471.80" y="288.20" font-size="4.3" text-anchor="middle" fill="#222">100</text>
<line x1="471.80" y1="281.60" x2="471.80" y2="282.90" stroke="#222" stroke-width="0.6"/>
<text x="481.40" y="288.20" font-size="4.3" text-anchor="middle" fill="#222">1000</text>
<line x1="481.40" y1="281.60" x2="481.40" y2="282.90" stroke="#222" stroke-width="0.6"/>
<text x="493.20" y="288.20" font-size="4.3" text-anchor="middle" fill="#222">10000</text>
<line x1="493.20" y1="281.60" x2="493.20" y2="282.90" stroke="#222" stroke-width="0.6"/>
<text x="505.20" y="288.20" font-size="4.3" text-anchor="middle" fill="#222">1x10<tspan dy="-1.6" font-size="2.9">5</tspan></text>
<line x1="505.20" y1="281.60" x2="505.20" y2="282.90" stroke="#222" stroke-width="0.6"/>
<path d="M466.20 280.70H487.20" stroke="#222" stroke-width="1.0" stroke-dasharray="0.6 0.9" opacity="0.8"/>
<text x="462.80" y="237.10" font-size="4.3" fill="#222">0.15</text>
<text x="508.80" y="237.10" font-size="4.3" text-anchor="end" fill="#222">59.4</text>
<text x="462.80" y="280.00" font-size="4.3" fill="#222">3.62</text>
<text x="508.80" y="280.00" font-size="4.3" text-anchor="end" fill="#222">36.8</text>
<text x="483.80" y="227.40" font-size="7.7" text-anchor="middle">10µM</text>
<line x1="304.80" y1="296.85" x2="304.80" y2="267.70" stroke="#111" stroke-width="1.7"/>
<line x1="303.95" y1="296.00" x2="355.80" y2="296.00" stroke="#111" stroke-width="1.7"/>
<path d="M301.90 269.50L304.80 263.70L307.70 269.50Z" fill="#111"/>
<path d="M354.00 293.10L359.80 296.00L354.00 298.90Z" fill="#111"/>
<text x="299.90" y="282.10" font-size="8.0" text-anchor="middle" transform="rotate(-90 299.90 282.10)" textLength="16.60" lengthAdjust="spacingAndGlyphs">7AAD</text>
<text x="314.50" y="305.80" font-size="7.8" textLength="31.20" lengthAdjust="spacingAndGlyphs">Annexin V</text>
<path d="M60.6 529.6Q63.4 531.2 65.6 529.6Q67.4 527.6 65.6 525.8Q63.4 524.6 61.2 525.6" fill="none" stroke="#222" stroke-width="0.7"/>
<ellipse cx="66.68" cy="527.58" rx="9.50" ry="2.80" transform="rotate(0 66.50 527.80)" fill="none" stroke="#a6a6a6" stroke-opacity="0.7" stroke-width="0.45"/>
<ellipse cx="66.38" cy="527.80" rx="5.70" ry="1.68" transform="rotate(0 66.50 527.80)" fill="none" stroke="#a6a6a6" stroke-opacity="0.7" stroke-width="0.45"/>
<path d="M83.7 506.2h.01M81.0 507.3h.01M80.9 506.7h.01M76.9 518.3h.01M88.2 503.2h.01M76.3 508.9h.01M79.8 504.3h.01M87.3 503.2h.01M86.1 514.4h.01M79.9 507.8h.01M82.4 511.8h.01M69.7 504.9h.01M85.2 510.5h.01M79.6 506.2h.01M77.9 507.3h.01M98.4 504.9h.01M91.0 513.4h.01M83.3 512.0h.01M79.8 518.9h.01M85.0 510.9h.01M81.3 512.0h.01M75.4 509.5h.01M78.4 514.1h.01M85.6 501.9h.01M80.7 515.9h.01M74.5 505.3h.01M87.9 510.4h.01M79.4 505.1h.01M83.0 508.3h.01M83.3 513.1h.01M86.2 509.5h.01M79.0 511.2h.01M81.5 511.9h.01M78.9 509.9h.01M78.6 508.2h.01M83.0 516.7h.01M78.9 513.9h.01M84.1 511.6h.01M86.0 508.3h.01M85.4 512.5h.01" stroke="#999" stroke-opacity="0.3" stroke-width="0.64" stroke-linecap="round" fill="none"/>
<path d="M58.2 528.1h.01M86.2 531.0h.01M74.8 527.7h.01M84.5 525.8h.01M90.3 528.3h.01M76.6 525.4h.01M79.2 531.7h.01M96.8 523.2h.01M69.6 528.7h.01M81.3 526.4h.01M86.2 527.7h.01M84.0 528.0h.01M74.6 529.8h.01M78.9 529.5h.01M86.8 527.6h.01M83.0 527.4h.01M69.4 526.9h.01M85.0 524.7h.01M71.8 529.4h.01M87.6 524.8h.01M85.2 527.4h.01M88.8 526.9h.01M80.5 526.2h.01M83.3 527.3h.01M77.5 526.9h.01M76.9 528.6h.01M75.0 524.8h.01M75.4 529.4h.01M78.6 528.7h.01M87.1 526.6h.01M87.2 528.4h.01M81.7 526.3h.01M81.6 525.2h.01M80.1 526.5h.01M85.1 528.1h.01M77.6 529.0h.01M90.3 527.6h.01M76.9 528.4h.01M65.2 526.5h.01M86.1 531.1h.01" stroke="#999" stroke-opacity="0.32" stroke-width="0.64" stroke-linecap="round" fill="none"/>
<rect x="54.30" y="486.20" width="49.90" height="50.20" fill="none" stroke="#a8a8a8" stroke-width="0.6"/>
<line x1="54.30" y1="486.20" x2="54.30" y2="536.40" stroke="#444" stroke-width="0.9" stroke-dasharray="1.1 1.0"/>
<line x1="66.30" y1="536.40" x2="104.20" y2="536.40" stroke="#555" stroke-width="0.9" stroke-dasharray="1.0 2.2"/>
<line x1="68.60" y1="486.20" x2="68.60" y2="536.40" stroke="#5a5a5a" stroke-width="0.85"/>
<line x1="54.30" y1="522.40" x2="104.20" y2="522.40" stroke="#5a5a5a" stroke-width="0.85"/>
<text x="52.50" y="491.90" font-size="4.2" text-anchor="end" fill="#222">10<tspan dy="-1.5" font-size="2.8">5</tspan></text>
<text x="52.50" y="503.10" font-size="4.2" text-anchor="end" fill="#222">10<tspan dy="-1.5" font-size="2.8">4</tspan></text>
<text x="52.50" y="514.40" font-size="4.2" text-anchor="end" fill="#222">10<tspan dy="-1.5" font-size="2.8">3</tspan></text>
<text x="52.50" y="525.10" font-size="4.2" text-anchor="end" fill="#222">10<tspan dy="-1.5" font-size="2.8">2</tspan></text>
<text x="52.50" y="530.60" font-size="4.2" text-anchor="end" fill="#222">0</text>
<text x="52.50" y="535.90" font-size="4.2" text-anchor="end" fill="#222">-10<tspan dy="-1.5" font-size="2.8">2</tspan></text>
<text x="61.10" y="542.60" font-size="4.2" text-anchor="middle" fill="#222">0</text>
<text x="77.30" y="542.60" font-size="4.2" text-anchor="middle" fill="#222">10<tspan dy="-1.5" font-size="2.8">3</tspan></text>
<text x="88.50" y="542.60" font-size="4.2" text-anchor="middle" fill="#222">10<tspan dy="-1.5" font-size="2.8">4</tspan></text>
<text x="99.80" y="542.60" font-size="4.2" text-anchor="middle" fill="#222">10<tspan dy="-1.5" font-size="2.8">5</tspan></text>
<path d="M55.30 536.90H65.80" stroke="#111" stroke-width="1.3" stroke-dasharray="0.8 0.6"/>
<path d="M53.80 535.40V523.40" stroke="#111" stroke-width="1.2" stroke-dasharray="0.8 0.7"/>
<text x="55.70" y="491.80" font-size="4.5" fill="#222">0.18</text>
<text x="99.20" y="491.80" font-size="4.5" text-anchor="end" fill="#222">1.95</text>
<text x="55.70" y="531.00" font-size="4.5" fill="#222">94.5</text>
<text x="99.20" y="531.00" font-size="4.5" text-anchor="end" fill="#222">3.39</text>
<text x="79.40" y="470.20" font-size="8.0" text-anchor="middle">AI-4-88</text>
<line x1="56.30" y1="473.90" x2="101.30" y2="473.90" stroke="#111" stroke-width="1.3"/>
<text x="79.00" y="482.60" font-size="7.7" text-anchor="middle">10µM</text>
<ellipse cx="144.91" cy="515.13" rx="8.80" ry="7.00" transform="rotate(-15 145.00 515.00)" fill="none" stroke="#a6a6a6" stroke-opacity="0.8" stroke-width="0.5"/>
<ellipse cx="144.80" cy="515.24" rx="6.60" ry="5.25" transform="rotate(-15 145.00 515.00)" fill="none" stroke="#a6a6a6" stroke-opacity="0.8" stroke-width="0.5"/>
<ellipse cx="144.97" cy="515.23" rx="4.40" ry="3.50" transform="rotate(-15 145.00 515.00)" fill="none" stroke="#a6a6a6" stroke-opacity="0.8" stroke-width="0.5"/>
<path d="M139.6 511.4Q141 507.6 146.5 507.4Q152.6 507.6 153.2 511.6Q153.6 516 152.2 520.4" fill="none" stroke="#8a8a8a" stroke-width="0.7"/>
<path d="M143.4 513.6Q145 510.6 148.6 510.6Q151 511.4 150.6 515" fill="none" stroke="#999" stroke-width="0.55"/>
<ellipse cx="136.86" cy="526.75" rx="15.00" ry="3.00" transform="rotate(0 137.00 526.80)" fill="none" stroke="#a6a6a6" stroke-opacity="0.8" stroke-width="0.5"/>
<ellipse cx="137.10" cy="526.64" rx="11.62" ry="2.33" transform="rotate(0 137.00 526.80)" fill="none" stroke="#a6a6a6" stroke-opacity="0.8" stroke-width="0.5"/>
<ellipse cx="136.89" cy="526.89" rx="8.25" ry="1.65" transform="rotate(0 137.00 526.80)" fill="none" stroke="#a6a6a6" stroke-opacity="0.8" stroke-width="0.5"/>
<ellipse cx="124.72" cy="527.51" rx="4.00" ry="1.80" transform="rotate(0 124.50 527.60)" fill="none" stroke="#666" stroke-opacity="0.8" stroke-width="0.5"/>
<ellipse cx="124.34" cy="527.53" rx="2.00" ry="0.90" transform="rotate(0 124.50 527.60)" fill="none" stroke="#666" stroke-opacity="0.8" stroke-width="0.5"/>
<path d="M147.5 515.8h.01M137.8 511.6h.01M139.6 512.7h.01M130.5 507.6h.01M150.0 509.4h.01M132.6 515.8h.01M154.5 523.5h.01M139.8 509.9h.01M138.8 510.6h.01M138.7 518.9h.01M134.6 511.4h.01M141.0 515.9h.01M136.9 511.3h.01M134.0 511.5h.01M147.2 514.6h.01M142.5 510.8h.01M141.0 498.0h.01M129.9 523.0h.01M160.0 529.0h.01M137.2 516.2h.01M149.2 508.7h.01M156.9 511.7h.01M145.8 509.1h.01M145.9 515.9h.01M151.6 509.1h.01M142.9 526.9h.01M133.5 518.1h.01M146.5 513.0h.01M140.9 524.5h.01M152.1 519.4h.01M145.1 509.2h.01M143.7 526.7h.01M151.4 507.9h.01M126.4 512.0h.01M144.3 512.7h.01M140.6 518.1h.01M150.2 517.3h.01M153.0 507.5h.01M146.7 518.6h.01M131.1 523.5h.01M130.2 507.3h.01M164.4 523.8h.01M146.0 524.1h.01M152.2 509.2h.01M146.9 524.4h.01M141.7 516.4h.01M139.3 520.4h.01M138.6 512.5h.01M133.2 510.4h.01" stroke="#999" stroke-opacity="0.3" stroke-width="0.64" stroke-linecap="round" fill="none"/>
<rect x="118.50" y="486.40" width="49.50" height="49.50" fill="none" stroke="#a8a8a8" stroke-width="0.6"/>
<line x1="118.50" y1="486.40" x2="118.50" y2="535.90" stroke="#444" stroke-width="0.9" stroke-dasharray="1.1 1.0"/>
<line x1="130.50" y1="535.90" x2="168.00" y2="535.90" stroke="#555" stroke-width="0.9" stroke-dasharray="1.0 2.2"/>
<line x1="132.60" y1="486.40" x2="132.60" y2="535.90" stroke="#5a5a5a" stroke-width="0.85"/>
<line x1="118.50" y1="522.40" x2="168.00" y2="522.40" stroke="#5a5a5a" stroke-width="0.85"/>
<text x="116.70" y="492.10" font-size="4.2" text-anchor="end" fill="#222">10<tspan dy="-1.5" font-size="2.8">5</tspan></text>
<text x="116.70" y="503.30" font-size="4.2" text-anchor="end" fill="#222">10<tspan dy="-1.5" font-size="2.8">4</tspan></text>
<text x="116.70" y="514.60" font-size="4.2" text-anchor="end" fill="#222">10<tspan dy="-1.5" font-size="2.8">3</tspan></text>
<text x="116.70" y="525.30" font-size="4.2" text-anchor="end" fill="#222">10<tspan dy="-1.5" font-size="2.8">2</tspan></text>
<text x="116.70" y="530.80" font-size="4.2" text-anchor="end" fill="#222">0</text>
<text x="116.70" y="536.10" font-size="4.2" text-anchor="end" fill="#222">-10<tspan dy="-1.5" font-size="2.8">2</tspan></text>
<text x="125.30" y="542.10" font-size="4.2" text-anchor="middle" fill="#222">0</text>
<text x="141.50" y="542.10" font-size="4.2" text-anchor="middle" fill="#222">10<tspan dy="-1.5" font-size="2.8">3</tspan></text>
<text x="152.70" y="542.10" font-size="4.2" text-anchor="middle" fill="#222">10<tspan dy="-1.5" font-size="2.8">4</tspan></text>
<text x="164.00" y="542.10" font-size="4.2" text-anchor="middle" fill="#222">10<tspan dy="-1.5" font-size="2.8">5</tspan></text>
<path d="M119.50 536.40H130.00" stroke="#111" stroke-width="1.3" stroke-dasharray="0.8 0.6"/>
<path d="M118.00 534.90V522.90" stroke="#111" stroke-width="1.2" stroke-dasharray="0.8 0.7"/>
<text x="119.90" y="492.00" font-size="4.5" fill="#222">0.26</text>
<text x="163.00" y="492.00" font-size="4.5" text-anchor="end" fill="#222">32.6</text>
<text x="119.90" y="530.50" font-size="4.5" fill="#222">43.6</text>
<text x="163.00" y="530.50" font-size="4.5" text-anchor="end" fill="#222">23.6</text>
<text x="173.40" y="470.00" font-size="8.0" text-anchor="middle">AI-10-104</text>
<line x1="126.20" y1="474.00" x2="221.00" y2="474.00" stroke="#111" stroke-width="1.3"/>
<text x="142.60" y="482.80" font-size="7.7" text-anchor="middle">5µM</text>
<ellipse cx="208.44" cy="514.81" rx="8.80" ry="6.60" transform="rotate(-15 208.60 515.00)" fill="none" stroke="#a6a6a6" stroke-opacity="0.85" stroke-width="0.5"/>
<ellipse cx="208.70" cy="514.98" rx="6.60" ry="4.95" transform="rotate(-15 208.60 515.00)" fill="none" stroke="#a6a6a6" stroke-opacity="0.85" stroke-width="0.5"/>
<ellipse cx="208.41" cy="514.81" rx="4.40" ry="3.30" transform="rotate(-15 208.60 515.00)" fill="none" stroke="#a6a6a6" stroke-opacity="0.85" stroke-width="0.5"/>
<path d="M203.4 511.6Q204.6 508.2 210.2 508.0Q216.4 508.2 216.9 511.8Q217.2 516 215.8 520.2" fill="none" stroke="#6e6e6e" stroke-width="0.85"/>
<path d="M206.6 513.6Q208 510.4 212.0 510.4Q214.8 511.2 214.4 515" fill="none" stroke="#8a8a8a" stroke-width="0.6"/>
<ellipse cx="201.72" cy="527.06" rx="14.00" ry="3.10" transform="rotate(0 201.50 527.00)" fill="none" stroke="#a6a6a6" stroke-opacity="0.8" stroke-width="0.5"/>
<ellipse cx="201.43" cy="526.85" rx="10.85" ry="2.40" transform="rotate(0 201.50 527.00)" fill="none" stroke="#a6a6a6" stroke-opacity="0.8" stroke-width="0.5"/>
<ellipse cx="201.75" cy="527.10" rx="7.70" ry="1.71" transform="rotate(0 201.50 527.00)" fill="none" stroke="#a6a6a6" stroke-opacity="0.8" stroke-width="0.5"/>
<path d="M206.3 510.3h.01M204.0 521.7h.01M213.9 522.7h.01M193.8 521.1h.01M199.6 519.6h.01M187.9 515.4h.01M199.9 523.7h.01M208.0 523.9h.01M203.5 527.9h.01M203.4 527.5h.01M203.1 510.1h.01M214.2 513.6h.01M206.5 507.9h.01M204.2 516.7h.01M201.3 518.4h.01M188.5 521.4h.01M203.7 524.9h.01M204.2 512.0h.01M203.4 517.7h.01M211.8 513.2h.01M200.6 518.6h.01M213.7 505.4h.01M198.5 511.9h.01M220.8 523.5h.01M213.5 519.0h.01M198.0 522.8h.01M203.4 511.2h.01M222.7 507.2h.01M218.2 517.2h.01M199.6 517.1h.01M200.2 517.1h.01M201.8 508.8h.01M228.5 513.0h.01M215.0 515.7h.01M212.5 508.3h.01M198.6 496.1h.01M215.1 518.7h.01M197.5 521.1h.01M211.8 533.8h.01M208.9 521.6h.01M212.0 520.7h.01M206.8 513.5h.01M212.8 523.5h.01M197.6 509.1h.01M206.7 527.0h.01M205.3 505.7h.01M213.6 520.6h.01M222.8 517.2h.01M223.0 511.6h.01M214.4 516.8h.01" stroke="#999" stroke-opacity="0.3" stroke-width="0.64" stroke-linecap="round" fill="none"/>
<rect x="182.40" y="486.20" width="49.80" height="49.80" fill="none" stroke="#a8a8a8" stroke-width="0.6"/>
<line x1="182.40" y1="486.20" x2="182.40" y2="536.00" stroke="#444" stroke-width="0.9" stroke-dasharray="1.1 1.0"/>
<line x1="194.40" y1="536.00" x2="232.20" y2="536.00" stroke="#555" stroke-width="0.9" stroke-dasharray="1.0 2.2"/>
<line x1="196.30" y1="486.20" x2="196.30" y2="536.00" stroke="#5a5a5a" stroke-width="0.85"/>
<line x1="182.40" y1="522.20" x2="232.20" y2="522.20" stroke="#5a5a5a" stroke-width="0.85"/>
<text x="180.60" y="491.90" font-size="4.2" text-anchor="end" fill="#222">10<tspan dy="-1.5" font-size="2.8">5</tspan></text>
<text x="180.60" y="503.10" font-size="4.2" text-anchor="end" fill="#222">10<tspan dy="-1.5" font-size="2.8">4</tspan></text>
<text x="180.60" y="514.40" font-size="4.2" text-anchor="end" fill="#222">10<tspan dy="-1.5" font-size="2.8">3</tspan></text>
<text x="180.60" y="525.10" font-size="4.2" text-anchor="end" fill="#222">10<tspan dy="-1.5" font-size="2.8">2</tspan></text>
<text x="180.60" y="530.60" font-size="4.2" text-anchor="end" fill="#222">0</text>
<text x="180.60" y="535.90" font-size="4.2" text-anchor="end" fill="#222">-10<tspan dy="-1.5" font-size="2.8">2</tspan></text>
<text x="189.20" y="542.20" font-size="4.2" text-anchor="middle" fill="#222">0</text>
<text x="205.40" y="542.20" font-size="4.2" text-anchor="middle" fill="#222">10<tspan dy="-1.5" font-size="2.8">3</tspan></text>
<text x="216.60" y="542.20" font-size="4.2" text-anchor="middle" fill="#222">10<tspan dy="-1.5" font-size="2.8">4</tspan></text>
<text x="227.90" y="542.20" font-size="4.2" text-anchor="middle" fill="#222">10<tspan dy="-1.5" font-size="2.8">5</tspan></text>
<path d="M183.40 536.50H193.90" stroke="#111" stroke-width="1.3" stroke-dasharray="0.8 0.6"/>
<path d="M181.90 535.00V523.00" stroke="#111" stroke-width="1.2" stroke-dasharray="0.8 0.7"/>
<text x="183.80" y="491.80" font-size="4.5" fill="#222">1.13</text>
<text x="227.20" y="491.80" font-size="4.5" text-anchor="end" fill="#222">50.4</text>
<text x="183.80" y="530.60" font-size="4.5" fill="#222">17.4</text>
<text x="227.20" y="530.60" font-size="4.5" text-anchor="end" fill="#222">31.0</text>
<text x="207.00" y="482.80" font-size="7.7" text-anchor="middle">10µM</text>
<line x1="38.70" y1="549.65" x2="38.70" y2="519.40" stroke="#111" stroke-width="1.7"/>
<line x1="37.85" y1="548.80" x2="89.30" y2="548.80" stroke="#111" stroke-width="1.7"/>
<path d="M35.80 521.20L38.70 515.40L41.60 521.20Z" fill="#111"/>
<path d="M87.50 545.90L93.30 548.80L87.50 551.70Z" fill="#111"/>
<text x="33.80" y="534.60" font-size="8.0" text-anchor="middle" transform="rotate(-90 33.80 534.60)" textLength="16.60" lengthAdjust="spacingAndGlyphs">7AAD</text>
<text x="48.60" y="558.70" font-size="7.8" textLength="31.20" lengthAdjust="spacingAndGlyphs">Annexin V</text>
<line x1="324.30" y1="338.60" x2="324.30" y2="436.45" stroke="#111" stroke-width="1.3"/>
<line x1="323.65" y1="435.80" x2="469.00" y2="435.80" stroke="#111" stroke-width="1.3"/>
<line x1="320.70" y1="435.80" x2="324.30" y2="435.80" stroke="#111" stroke-width="1.2"/>
<text x="317.90" y="438.65" font-size="7.9" text-anchor="end">0</text>
<line x1="320.70" y1="404.30" x2="324.30" y2="404.30" stroke="#111" stroke-width="1.2"/>
<text x="317.90" y="407.15" font-size="7.9" text-anchor="end">2</text>
<line x1="320.70" y1="372.80" x2="324.30" y2="372.80" stroke="#111" stroke-width="1.2"/>
<text x="317.90" y="375.65" font-size="7.9" text-anchor="end">4</text>
<line x1="320.70" y1="341.30" x2="324.30" y2="341.30" stroke="#111" stroke-width="1.2"/>
<text x="317.90" y="344.15" font-size="7.9" text-anchor="end">6</text>
<line x1="324.30" y1="435.80" x2="324.30" y2="439.40" stroke="#111" stroke-width="1.2"/>
<text x="324.30" y="449.20" font-size="7.9" text-anchor="middle">0</text>
<line x1="352.57" y1="435.80" x2="352.57" y2="439.40" stroke="#111" stroke-width="1.2"/>
<text x="352.57" y="449.20" font-size="7.9" text-anchor="middle">1</text>
<line x1="380.84" y1="435.80" x2="380.84" y2="439.40" stroke="#111" stroke-width="1.2"/>
<text x="380.84" y="449.20" font-size="7.9" text-anchor="middle">2</text>
<line x1="409.11" y1="435.80" x2="409.11" y2="439.40" stroke="#111" stroke-width="1.2"/>
<text x="409.11" y="449.20" font-size="7.9" text-anchor="middle">3</text>
<line x1="437.38" y1="435.80" x2="437.38" y2="439.40" stroke="#111" stroke-width="1.2"/>
<text x="437.38" y="449.20" font-size="7.9" text-anchor="middle">4</text>
<line x1="465.65" y1="435.80" x2="465.65" y2="439.40" stroke="#111" stroke-width="1.2"/>
<text x="465.65" y="449.20" font-size="7.9" text-anchor="middle">5</text>
<text x="294.70" y="387.00" font-size="10.3" text-anchor="middle" transform="rotate(-90 294.70 387.00)" textLength="63.40" lengthAdjust="spacingAndGlyphs">RUNX1+RUNX3</text>
<text x="307.20" y="386.40" font-size="10.3" text-anchor="middle" transform="rotate(-90 307.20 386.40)" textLength="64.70" lengthAdjust="spacingAndGlyphs">expression level</text>
<text x="377.60" y="462.40" font-size="10.3" textLength="37.60" lengthAdjust="spacingAndGlyphs">GI<tspan dy="1.6" font-size="7.4">50</tspan><tspan dy="-1.6"> (µM)</tspan></text>
<circle cx="355.8" cy="411.8" r="2.15" fill="#a3123f"/>
<circle cx="350.0" cy="419.4" r="2.15" fill="#9c8fc8"/>
<circle cx="350.8" cy="423.8" r="2.15" fill="#e9962b"/>
<circle cx="344.6" cy="429.6" r="2.15" fill="#d4147c"/>
<circle cx="404.3" cy="406.9" r="2.15" fill="#2b4464"/>
<circle cx="400.6" cy="412.0" r="2.15" fill="#2f5a58"/>
<circle cx="445.5" cy="347.5" r="2.15" fill="#6fb544"/>
<circle cx="448.0" cy="426.3" r="2.15" fill="#1c1c2c"/>
<text x="344.40" y="408.00" font-size="7.7">TALL-X-3</text>
<text x="352.60" y="420.20" font-size="7.7">TALL-X-1</text>
<text x="354.60" y="427.60" font-size="7.7">TALL-X-9</text>
<text x="348.80" y="433.90" font-size="7.7">TALL-X-7</text>
<text x="408.80" y="406.30" font-size="7.7">TALL-X-2</text>
<text x="405.00" y="417.10" font-size="7.7">TALL-X-8</text>
<text x="449.60" y="350.80" font-size="7.7">TALL-X-4</text>
<text x="452.00" y="430.10" font-size="7.7">(TALL-X-5)</text>
</svg>
</body></html>
